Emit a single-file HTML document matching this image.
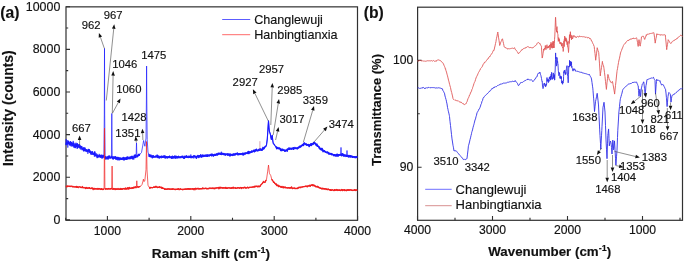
<!DOCTYPE html><html><head><meta charset="utf-8"><style>html,body{margin:0;padding:0;background:#fff;}svg{display:block;will-change:transform;} text{font-family:"Liberation Sans",sans-serif;fill:#111;stroke:#111;stroke-width:0.15px;}</style></head><body>
<svg width="685" height="262" viewBox="0 0 685 262">
<rect width="685" height="262" fill="#fff"/>
<rect x="66" y="6.85" width="291.5" height="213.45" fill="none" stroke="#303030" stroke-width="1.2"/>
<path d="M66 219.90 h4 M66 198.58 h2.2 M66 177.26 h4 M66 155.94 h2.2 M66 134.62 h4 M66 113.30 h2.2 M66 91.98 h4 M66 70.66 h2.2 M66 49.34 h4 M66 28.02 h2.2 M66 6.70 h4 M65.70 220.3 v-2.6 M107.40 220.3 v-4.4 M149.10 220.3 v-2.6 M190.80 220.3 v-4.4 M232.50 220.3 v-2.6 M274.20 220.3 v-4.4 M315.90 220.3 v-2.6 M357.60 220.3 v-4.4" stroke="#303030" stroke-width="1.1" fill="none"/>
<text x="60.3" y="223.80" font-size="12.4" text-anchor="end">0</text>
<text x="60.3" y="181.16" font-size="12.4" text-anchor="end">2000</text>
<text x="60.3" y="138.52" font-size="12.4" text-anchor="end">4000</text>
<text x="60.3" y="95.88" font-size="12.4" text-anchor="end">6000</text>
<text x="60.3" y="53.24" font-size="12.4" text-anchor="end">8000</text>
<text x="60.3" y="10.60" font-size="12.4" text-anchor="end">10000</text>
<text x="107.40" y="235" font-size="12.2" text-anchor="middle">1000</text>
<text x="190.80" y="235" font-size="12.2" text-anchor="middle">2000</text>
<text x="274.20" y="235" font-size="12.2" text-anchor="middle">3000</text>
<text x="357.60" y="235" font-size="12.2" text-anchor="middle">4000</text>
<path d="M66.00 144.79 L66.40 142.99 L66.80 143.44 L67.20 144.11 L67.60 142.73 L68.00 142.87 L68.40 141.30 L68.80 143.81 L69.20 143.67 L69.60 143.03 L70.00 144.94 L70.40 141.73 L70.80 144.32 L71.20 142.45 L71.60 142.85 L72.00 144.00 L72.40 145.82 L72.80 143.19 L73.20 143.53 L73.60 143.43 L74.00 147.05 L74.40 145.57 L74.80 145.57 L75.20 147.49 L75.60 145.70 L76.00 143.36 L76.40 145.22 L76.80 144.65 L77.20 148.21 L77.60 144.75 L78.00 146.71 L78.40 146.02 L78.80 146.26 L79.20 146.90 L79.60 146.90 L80.00 146.49 L80.40 146.12 L80.80 146.91 L81.20 146.70 L81.60 147.03 L82.00 148.25 L82.40 148.17 L82.80 148.99 L83.20 148.46 L83.60 150.79 L84.00 148.35 L84.40 148.28 L84.80 150.46 L85.20 148.95 L85.60 149.95 L86.00 150.97 L86.40 150.11 L86.80 150.05 L87.20 151.51 L87.60 151.10 L88.00 150.47 L88.40 150.04 L88.80 151.01 L89.20 150.01 L89.60 150.94 L90.00 150.93 L90.40 152.42 L90.80 153.04 L91.20 151.93 L91.60 152.32 L92.00 151.92 L92.40 151.86 L92.80 152.92 L93.20 154.01 L93.60 154.12 L94.00 154.42 L94.40 153.85 L94.80 151.87 L95.20 155.27 L95.60 155.77 L96.00 155.56 L96.40 155.70 L96.80 156.01 L97.20 157.52 L97.60 155.65 L98.00 156.85 L98.40 156.37 L98.80 156.41 L99.20 155.88 L99.60 155.86 L100.00 155.36 L100.40 156.77 L100.80 156.01 L101.20 155.27 L101.60 155.62 L102.00 155.26 L102.40 157.53 L102.80 156.00 L103.20 156.36 L103.60 155.45 L104.00 155.76 M104.80 156.73 L105.20 157.26 L105.60 158.71 L106.00 159.07 L106.40 157.97 L106.80 157.83 L107.20 157.65 L107.60 157.25 L108.00 159.10 L108.40 156.56 L108.80 157.47 L109.20 156.05 L109.60 156.59 L110.00 157.91 L110.40 157.99 L110.80 157.93 L111.20 157.44 L111.60 157.18 L112.00 157.34 L112.40 157.50 L112.80 158.66 L113.20 158.97 L113.60 158.23 L114.00 157.51 L114.40 157.24 L114.80 158.21 L115.20 157.84 L115.60 156.68 L116.00 159.12 L116.40 158.12 L116.80 157.92 L117.20 157.55 L117.60 157.58 L118.00 158.93 L118.40 157.60 L118.80 158.41 L119.20 158.84 L119.60 159.76 L120.00 158.89 L120.40 158.46 L120.80 158.20 L121.20 159.17 L121.60 159.31 L122.00 158.31 L122.40 159.08 L122.80 158.59 L123.20 157.57 L123.60 158.05 L124.00 159.38 L124.40 159.76 L124.80 159.16 L125.20 158.47 L125.60 158.05 L126.00 158.86 L126.40 158.66 L126.80 157.23 L127.20 158.75 L127.60 157.75 L128.00 158.64 L128.40 158.48 L128.80 158.55 L129.20 158.72 L129.60 158.41 L130.00 157.15 L130.40 157.11 L130.80 158.44 L131.20 158.00 L131.60 156.55 L132.00 156.20 L132.40 158.09 L132.80 158.91 L133.20 157.91 L133.60 157.14 L134.00 157.35 L134.40 155.25 L134.80 156.26 L135.20 157.45 L135.60 157.22 L136.00 155.14 M136.80 156.61 L137.20 156.67 L137.60 155.66 L138.00 155.52 L138.40 154.56 L138.80 155.18 L139.20 155.28 L139.60 153.81 M148.80 154.23 L149.20 154.96 L149.60 156.04 L150.00 156.56 L150.40 155.26 L150.80 156.48 L151.20 156.57 L151.60 156.57 L152.00 156.10 L152.40 157.78 L152.80 156.97 L153.20 155.69 L153.60 156.10 L154.00 157.00 L154.40 156.86 L154.80 156.66 L155.20 156.59 L155.60 156.50 L156.00 156.39 L156.40 156.08 L156.80 157.03 L157.20 155.11 L157.60 156.32 L158.00 157.48 L158.40 156.33 L158.80 156.11 L159.20 157.92 L159.60 157.45 L160.00 156.79 L160.40 156.56 L160.80 156.78 L161.20 156.74 L161.60 156.82 L162.00 156.56 L162.40 157.32 L162.80 156.71 L163.20 156.01 L163.60 156.33 L164.00 157.10 L164.40 156.53 L164.80 155.72 L165.20 158.03 L165.60 157.47 L166.00 156.94 L166.40 156.93 L166.80 157.55 L167.20 158.05 L167.60 156.89 L168.00 157.48 L168.40 156.87 L168.80 157.41 L169.20 156.56 L169.60 156.16 L170.00 157.25 L170.40 157.15 L170.80 157.59 L171.20 156.79 L171.60 157.94 L172.00 157.21 L172.40 158.02 L172.80 156.94 L173.20 157.99 L173.60 157.08 L174.00 157.19 L174.40 157.65 L174.80 156.08 L175.20 156.48 L175.60 158.12 L176.00 156.21 L176.40 156.77 L176.80 157.36 L177.20 157.87 L177.60 156.75 L178.00 157.10 L178.40 156.37 L178.80 156.79 L179.20 157.58 L179.60 157.18 L180.00 156.97 L180.40 157.22 L180.80 157.05 L181.20 157.06 L181.60 156.75 L182.00 156.39 L182.40 157.32 L182.80 156.28 L183.20 157.50 L183.60 158.12 L184.00 157.76 L184.40 158.21 L184.80 156.30 L185.20 157.02 L185.60 156.41 L186.00 156.45 L186.40 155.89 L186.80 156.16 L187.20 157.33 L187.60 157.23 L188.00 157.51 L188.40 157.46 L188.80 157.25 L189.20 156.35 L189.60 156.73 L190.00 157.20 L190.40 157.49 L190.80 156.57 L191.20 156.49 L191.60 156.52 L192.00 157.65 L192.40 157.06 L192.80 156.56 L193.20 156.30 L193.60 156.97 L194.00 155.77 L194.40 156.58 L194.80 156.38 L195.20 156.35 L195.60 156.75 L196.00 156.83 L196.40 158.26 L196.80 156.58 L197.20 156.87 L197.60 156.00 L198.00 155.48 L198.40 157.01 L198.80 157.42 L199.20 155.74 L199.60 156.21 L200.00 156.83 L200.40 156.23 L200.80 154.81 L201.20 156.66 L201.60 155.98 L202.00 156.43 L202.40 155.45 L202.80 156.43 L203.20 156.48 L203.60 155.47 L204.00 156.10 L204.40 155.44 L204.80 155.47 L205.20 155.21 L205.60 155.43 L206.00 155.26 L206.40 156.24 L206.80 155.43 L207.20 154.89 L207.60 156.23 L208.00 155.74 L208.40 155.94 L208.80 155.32 L209.20 155.71 L209.60 155.23 L210.00 154.72 L210.40 155.27 L210.80 155.26 L211.20 155.22 L211.60 155.58 L212.00 154.12 L212.40 155.21 L212.80 154.57 L213.20 154.82 L213.60 155.18 L214.00 154.94 L214.40 154.50 L214.80 155.25 L215.20 154.75 L215.60 155.23 L216.00 155.32 L216.40 154.38 L216.80 153.90 L217.20 154.48 L217.60 154.81 L218.00 154.46 L218.40 153.58 L218.80 153.22 L219.20 153.56 L219.60 153.49 L220.00 154.27 L220.40 153.90 L220.80 154.27 L221.20 153.67 L221.60 154.56 L222.00 153.68 L222.40 154.03 L222.80 153.56 L223.20 154.09 L223.60 154.49 L224.00 154.38 L224.40 154.70 L224.80 153.74 L225.20 154.37 L225.60 155.11 L226.00 154.37 L226.40 154.20 L226.80 154.22 L227.20 154.12 L227.60 154.54 L228.00 155.27 L228.40 154.82 L228.80 154.62 L229.20 154.26 L229.60 154.13 L230.00 156.08 L230.40 154.58 L230.80 154.86 L231.20 154.51 L231.60 154.84 L232.00 154.49 L232.40 154.75 L232.80 155.44 L233.20 154.24 L233.60 154.89 L234.00 154.54 L234.40 154.94 L234.80 154.16 L235.20 154.71 L235.60 153.94 L236.00 153.46 L236.40 153.70 L236.80 153.87 L237.20 153.75 L237.60 154.14 L238.00 154.88 L238.40 153.65 L238.80 154.47 L239.20 154.28 L239.60 153.80 L240.00 153.65 L240.40 154.34 L240.80 154.34 L241.20 153.88 L241.60 153.95 L242.00 154.00 L242.40 153.28 L242.80 154.01 L243.20 154.09 L243.60 154.83 L244.00 153.19 L244.40 153.38 L244.80 153.86 L245.20 153.43 L245.60 153.40 L246.00 153.49 L246.40 153.21 L246.80 153.22 L247.20 153.35 L247.60 152.14 L248.00 153.17 L248.40 151.56 L248.80 153.52 L249.20 152.99 L249.60 152.06 L250.00 152.79 L250.40 152.05 L250.80 152.23 L251.20 152.28 L251.60 151.94 L252.00 151.64 L252.40 151.84 L252.80 151.29 L253.20 151.07 L253.60 150.64 L254.00 150.07 L254.40 151.72 L254.80 151.18 L255.20 149.93 L255.60 150.76 L256.00 150.56 L256.40 149.20 L256.80 149.81 L257.20 150.09 L257.60 150.94 L258.00 150.51 L258.40 150.49 L258.80 149.93 L259.20 150.23 L259.60 149.04 L260.00 149.92 L260.40 149.92 L260.80 148.83 L261.20 149.56 L261.60 150.16 L262.00 150.31 L262.40 149.80 L262.80 148.45 L263.20 148.52 L263.60 148.04 L264.00 148.70 L264.40 147.37 L264.80 147.02 L265.20 146.47 L265.60 147.22 M276.00 146.96 L276.40 147.54 L276.80 148.44 L277.20 148.35 L277.60 147.63 L278.00 147.61 L278.40 148.20 L278.80 148.36 L279.20 147.95 L279.60 148.24 L280.00 148.39 L280.40 149.11 L280.80 150.30 L281.20 150.59 L281.60 149.31 L282.00 149.68 L282.40 149.29 L282.80 149.24 L283.20 150.11 L283.60 150.25 L284.00 149.98 L284.40 150.70 L284.80 150.29 L285.20 151.09 L285.60 150.37 L286.00 150.99 L286.40 150.24 L286.80 150.20 L287.20 150.24 L287.60 149.04 L288.00 149.14 L288.40 149.30 L288.80 149.09 L289.20 149.27 L289.60 148.63 L290.00 148.27 L290.40 148.80 L290.80 148.90 L291.20 148.25 L291.60 149.18 L292.00 148.82 L292.40 148.80 L292.80 148.68 L293.20 147.82 L293.60 149.32 L294.00 147.88 L294.40 148.43 L294.80 148.60 L295.20 148.40 L295.60 148.32 L296.00 147.81 L296.40 148.01 L296.80 148.23 L297.20 148.86 L297.60 147.82 L298.00 148.28 L298.40 147.95 L298.80 147.56 L299.20 147.03 L299.60 147.03 L300.00 146.02 L300.40 146.73 L300.80 146.55 L301.20 145.82 L301.60 146.03 L302.00 145.61 L302.40 144.77 L302.80 145.24 L303.20 144.24 L303.60 145.40 L304.00 143.37 L304.40 143.27 L304.80 143.46 L305.20 144.00 L305.60 144.56 L306.00 144.13 L306.40 143.99 L306.80 145.31 L307.20 145.10 L307.60 144.67 L308.00 144.99 L308.40 144.51 L308.80 145.52 L309.20 146.58 L309.60 145.14 L310.00 144.79 L310.40 145.33 L310.80 143.84 L311.20 145.49 L311.60 143.81 L312.00 143.97 L312.40 144.05 L312.80 144.52 L313.20 143.92 L313.60 142.58 L314.00 142.48 L314.40 143.47 L314.80 142.64 L315.20 143.84 L315.60 143.88 L316.00 144.99 L316.40 145.50 L316.80 143.97 L317.20 145.73 L317.60 146.21 L318.00 145.92 L318.40 146.40 L318.80 146.50 L319.20 147.32 L319.60 148.09 L320.00 148.95 L320.40 149.36 L320.80 148.78 L321.20 148.78 L321.60 149.95 L322.00 148.37 L322.40 149.31 L322.80 150.58 L323.20 151.63 L323.60 150.42 L324.00 151.12 L324.40 150.79 L324.80 151.58 L325.20 151.76 L325.60 151.57 L326.00 152.29 L326.40 152.17 L326.80 152.65 L327.20 152.45 L327.60 152.11 L328.00 152.92 L328.40 153.43 L328.80 152.77 L329.20 153.97 L329.60 153.68 L330.00 153.44 L330.40 153.78 L330.80 153.71 L331.20 153.62 L331.60 154.64 L332.00 154.76 L332.40 154.23 L332.80 154.49 L333.20 154.61 L333.60 155.18 L334.00 155.69 L334.40 154.78 L334.80 155.39 L335.20 155.36 L335.60 155.77 L336.00 156.14 L336.40 154.94 L336.80 154.29 L337.20 155.15 L337.60 154.38 L338.00 155.91 L338.40 154.69 L338.80 154.82 L339.20 155.01 L339.60 154.93 L340.00 154.55 L340.40 154.69 L340.80 155.08 L341.20 154.52 L341.60 155.65 L342.00 155.00 L342.40 153.77 L342.80 155.43 L343.20 154.22 L343.60 155.32 L344.00 156.33 L344.40 155.84 L344.80 154.85 L345.20 155.09 L345.60 155.57 L346.00 156.35 L346.40 155.37 L346.80 156.34 L347.20 156.04 L347.60 155.92 L348.00 155.97 L348.40 156.94 L348.80 155.48 L349.20 155.74 L349.60 156.77 L350.00 156.85 L350.40 155.78 L350.80 156.00 L351.20 155.92 L351.60 156.78 L352.00 156.23 L352.40 157.27 L352.80 156.99 L353.20 156.78 L353.60 156.78 L354.00 156.98 L354.40 157.16 L354.80 156.79 L355.20 156.95 L355.60 157.23 L356.00 156.86 L356.40 157.41 L356.80 156.89 L357.20 156.62" stroke="#1a1aff" stroke-width="1.5" fill="none" stroke-linejoin="round"/>
<path d="M66.00 145.36 L66.20 138.98 L66.40 143.19 L66.60 141.87 L66.80 142.09 L67.00 142.48 L67.20 140.03 L67.40 142.56 L67.60 141.74 L67.80 147.58 L68.00 143.36 L68.20 142.62 L68.40 142.77 L68.60 142.30 L68.80 141.83 L69.00 142.79 L69.20 144.04 L69.40 143.11 L69.60 144.79 L69.80 143.27 L70.00 143.63 L70.20 145.75 L70.40 144.46 L70.60 143.11 L70.80 143.61 L71.00 144.64 L71.20 146.57 L71.40 143.69 L71.60 143.79 L71.80 145.51 L72.00 143.06 L72.20 143.92 L72.40 145.54 L72.60 145.20 L72.80 144.62 L73.00 145.44 L73.20 140.90 L73.40 146.03 L73.60 143.49 L73.80 142.63 L74.00 145.24 L74.20 145.86 L74.40 144.43 L74.60 143.67 L74.80 145.17 L75.00 145.13 L75.20 147.10 L75.40 146.32 L75.60 145.69 L75.80 146.95 L76.00 145.34 L76.20 144.49 L76.40 146.51 L76.60 146.58 L76.80 145.65 L77.00 145.01 L77.20 146.37 L77.40 143.00 L77.60 147.11 L77.80 146.94 L78.00 144.34 L78.20 146.56 L78.40 145.35 L78.60 147.59 L78.80 144.18 L79.00 145.66 L79.20 147.76 L79.40 148.40 L79.60 144.36 L79.80 146.50 L80.00 147.61 L80.20 146.54 L80.40 149.35 L80.60 146.02 L80.80 148.01 L81.00 146.39 L81.20 149.48 L81.40 147.83 L81.60 147.50 L81.80 145.96 L82.00 150.18 L82.20 149.15 L82.40 149.24 L82.60 149.80 L82.80 148.94 L83.00 147.85 L83.20 147.75 L83.40 147.85 L83.60 150.53 L83.80 147.25 L84.00 148.38 L84.20 148.80 L84.40 149.54 L84.60 150.05 L84.80 147.99 L85.00 147.52 L85.20 149.65 L85.40 151.17 L85.60 150.73 L85.80 150.19 L86.00 149.66 L86.20 150.46 L86.40 149.93 L86.60 151.26 L86.80 149.49 L87.00 150.65 L87.20 150.47 L87.40 151.32 L87.60 151.05 L87.80 153.81 L88.00 152.70 L88.20 152.79 L88.40 148.86 L88.60 150.89 L88.80 150.69 L89.00 152.08 L89.20 149.00 L89.40 152.99 L89.60 152.97 L89.80 150.41 L90.00 150.87 L90.20 151.17 L90.40 152.21 L90.60 152.97 L90.80 154.62 L91.00 152.23 L91.20 153.39 L91.40 152.82 L91.60 154.68 L91.80 153.65 L92.00 154.43 L92.20 151.86 L92.40 152.92 L92.60 152.35 L92.80 154.96 L93.00 154.14 L93.20 153.19 L93.40 153.13 L93.60 154.24 L93.80 153.06 L94.00 152.92 L94.20 154.52 L94.40 156.73 L94.60 153.94 L94.80 153.71 L95.00 153.16 L95.20 153.07 L95.40 155.11 L95.60 155.52 L95.80 154.71 L96.00 155.13 L96.20 154.98 L96.40 155.08 L96.60 153.42 L96.80 154.61 L97.00 155.28 L97.20 154.43 L97.40 154.82 L97.60 154.55 L97.80 155.12 L98.00 156.41 L98.20 155.20 L98.40 155.54 L98.60 156.60 L98.80 156.50 L99.00 157.64 L99.20 153.89 L99.40 156.93 L99.60 155.66 L99.80 156.36 L100.00 157.14 L100.20 157.38 L100.40 157.32 L100.60 156.43 L100.80 157.88 L101.00 155.99 L101.20 156.12 L101.40 157.05 L101.60 155.70 L101.80 158.38 L102.00 157.24 L102.20 158.37 L102.40 156.19 L102.60 155.84 L102.80 156.37 L103.00 156.92 L103.20 155.70 L103.40 156.73 L103.60 156.42 L103.80 158.10 L103.90 156.61 L104.30 114.93 L104.50 48.36 L104.70 115.08 L105.10 157.10 L105.20 156.44 L105.40 158.17 L105.60 156.62 L105.80 156.39 L106.00 156.72 L106.20 156.26 L106.40 157.56 L106.60 158.42 L106.80 157.60 L107.00 158.05 L107.20 159.02 L107.40 157.73 L107.60 157.67 L107.80 157.23 L108.00 155.97 L108.20 158.23 L108.40 155.85 L108.60 158.15 L108.80 157.53 L109.00 158.62 L109.20 157.50 L109.40 156.79 L109.60 157.92 L109.80 157.06 L110.00 157.43 L110.20 157.66 L110.40 157.51 L110.60 157.47 L110.80 156.89 L111.00 157.50 L111.20 155.70 L111.40 157.24 L111.80 113.48 L112.20 157.38 L112.20 157.63 L112.40 156.68 L112.60 158.84 L112.80 159.00 L113.00 156.04 L113.20 157.99 L113.40 157.76 L113.60 156.93 L113.80 158.39 L114.00 157.50 L114.20 156.32 L114.40 157.71 L114.60 157.83 L114.80 158.08 L115.00 156.88 L115.20 158.58 L115.40 158.70 L115.60 157.01 L115.80 157.47 L116.00 158.02 L116.20 157.60 L116.40 159.70 L116.60 158.33 L116.80 157.25 L117.00 157.47 L117.20 158.14 L117.40 160.27 L117.60 158.07 L117.80 158.36 L118.00 158.73 L118.20 158.25 L118.40 160.33 L118.60 157.85 L118.80 159.00 L119.00 158.50 L119.20 158.92 L119.40 157.35 L119.60 159.97 L119.80 158.32 L120.00 158.47 L120.20 157.64 L120.40 157.84 L120.60 158.99 L120.80 159.38 L121.00 159.19 L121.20 159.61 L121.40 159.19 L121.60 158.61 L121.80 159.33 L122.00 159.14 L122.20 158.55 L122.40 159.29 L122.60 159.79 L122.80 158.90 L123.00 158.40 L123.20 159.35 L123.40 160.38 L123.60 158.58 L123.80 158.70 L124.00 158.68 L124.20 159.81 L124.40 157.17 L124.60 159.02 L124.80 159.69 L125.00 157.95 L125.20 159.88 L125.40 159.03 L125.60 158.09 L125.80 158.69 L126.00 157.19 L126.20 157.98 L126.40 159.96 L126.60 157.64 L126.80 159.91 L127.00 158.26 L127.20 159.13 L127.40 158.31 L127.60 156.37 L127.80 157.73 L128.00 158.33 L128.20 157.19 L128.40 156.99 L128.60 158.38 L128.80 157.51 L129.00 156.62 L129.20 157.42 L129.40 158.67 L129.60 157.54 L129.80 158.66 L130.00 159.11 L130.20 157.86 L130.40 156.88 L130.60 156.71 L130.80 157.72 L131.00 158.42 L131.20 157.89 L131.40 158.09 L131.60 157.25 L131.80 157.82 L132.00 157.17 L132.20 157.26 L132.40 156.45 L132.60 156.19 L132.80 157.04 L133.00 156.51 L133.20 156.59 L133.40 157.87 L133.60 157.21 L133.80 159.56 L134.00 157.91 L134.20 156.60 L134.40 157.66 L134.60 157.26 L134.80 156.37 L135.00 157.72 L135.20 156.17 L135.40 154.31 L135.60 157.28 L135.80 156.10 L136.00 157.69 L136.10 156.81 L136.50 142.83 L136.90 156.38 L137.00 155.69 L137.20 155.15 L137.40 157.13 L137.60 154.96 L137.80 155.81 L138.00 156.64 L138.20 155.47 L138.40 155.19 L138.60 155.19 L138.80 155.62 L139.00 154.22 L139.20 155.17 L139.40 155.01 L139.50 154.66 L141.50 152.50 L142.70 145.97 L143.60 140.52 L144.30 143.89 L144.90 146.27 L146.00 138.06 L146.40 100.04 L146.60 66.04 L146.80 99.95 L147.20 139.68 L148.00 152.12 L149.00 155.22 L149.00 156.95 L149.20 155.26 L149.40 155.06 L149.60 156.42 L149.80 155.82 L150.00 156.50 L150.20 156.40 L150.40 157.14 L150.60 155.88 L150.80 156.28 L151.00 154.57 L151.20 155.75 L151.40 157.46 L151.60 155.92 L151.80 155.92 L152.00 155.57 L152.20 156.83 L152.40 156.57 L152.60 155.62 L152.80 156.93 L153.00 156.66 L153.20 157.01 L153.40 156.05 L153.60 157.73 L153.80 156.81 L154.00 156.45 L154.20 156.18 L154.40 156.39 L154.60 157.17 L154.80 156.39 L155.00 157.35 L155.20 157.01 L155.40 157.56 L155.60 157.20 L155.80 156.60 L156.00 155.32 L156.20 156.87 L156.40 157.23 L156.60 156.80 L156.80 157.09 L157.00 156.38 L157.20 156.46 L157.40 156.08 L157.60 157.70 L157.80 156.87 L158.00 156.43 L158.20 155.86 L158.40 156.69 L158.60 157.81 L158.80 157.14 L159.00 156.33 L159.20 157.84 L159.40 157.85 L159.60 157.55 L159.80 157.42 L160.00 157.69 L160.20 157.28 L160.40 157.45 L160.60 156.38 L160.80 157.98 L161.00 157.11 L161.20 158.36 L161.40 155.55 L161.60 157.47 L161.80 157.68 L162.00 156.77 L162.20 157.33 L162.40 157.55 L162.60 157.44 L162.80 156.68 L163.00 156.97 L163.20 157.78 L163.40 157.97 L163.60 157.17 L163.80 157.17 L164.00 157.26 L164.20 157.85 L164.40 156.42 L164.60 156.24 L164.80 157.26 L165.00 156.42 L165.20 156.79 L165.40 157.27 L165.60 157.55 L165.80 156.49 L166.00 157.80 L166.20 156.03 L166.40 157.64 L166.60 156.18 L166.80 156.41 L167.00 157.74 L167.20 157.01 L167.40 156.74 L167.60 156.98 L167.80 157.60 L168.00 157.24 L168.20 157.25 L168.40 158.00 L168.60 156.77 L168.80 156.94 L169.00 156.90 L169.20 158.06 L169.40 157.93 L169.60 158.13 L169.80 157.22 L170.00 157.13 L170.20 157.82 L170.40 156.95 L170.60 157.80 L170.80 157.72 L171.00 156.73 L171.20 157.15 L171.40 157.12 L171.60 158.40 L171.80 158.98 L172.00 157.12 L172.20 157.20 L172.40 155.61 L172.60 157.33 L172.80 157.17 L173.00 156.43 L173.20 157.71 L173.40 156.08 L173.60 157.01 L173.80 157.25 L174.00 156.29 L174.20 157.74 L174.40 157.87 L174.60 156.18 L174.80 156.16 L175.00 157.54 L175.20 157.10 L175.40 156.29 L175.60 156.91 L175.80 157.04 L176.00 157.01 L176.20 157.67 L176.40 157.36 L176.60 158.31 L176.80 158.03 L177.00 157.55 L177.20 157.82 L177.40 157.99 L177.60 157.56 L177.80 156.23 L178.00 157.65 L178.20 157.11 L178.40 158.17 L178.60 157.12 L178.80 157.41 L179.00 157.27 L179.20 158.19 L179.40 157.16 L179.60 156.85 L179.80 157.24 L180.00 156.72 L180.20 157.13 L180.40 157.01 L180.60 157.19 L180.80 158.32 L181.00 156.72 L181.20 157.02 L181.40 156.85 L181.60 157.45 L181.80 156.17 L182.00 156.50 L182.20 156.95 L182.40 157.34 L182.60 156.93 L182.80 156.62 L183.00 156.36 L183.20 157.30 L183.40 157.93 L183.60 157.17 L183.80 157.07 L184.00 157.24 L184.20 156.29 L184.40 156.71 L184.60 156.74 L184.80 157.12 L185.00 156.89 L185.20 156.08 L185.40 157.67 L185.60 158.06 L185.80 156.72 L186.00 157.17 L186.20 157.07 L186.40 157.42 L186.60 155.87 L186.80 157.98 L187.00 156.55 L187.20 157.73 L187.40 156.92 L187.60 156.59 L187.80 156.76 L188.00 157.46 L188.20 156.26 L188.40 156.59 L188.60 156.51 L188.80 155.66 L189.00 157.71 L189.20 157.22 L189.40 156.81 L189.60 157.61 L189.80 156.16 L190.00 156.76 L190.20 157.98 L190.40 157.47 L190.60 155.28 L190.80 154.52 L191.00 156.08 L191.20 157.50 L191.40 156.46 L191.60 156.62 L191.80 157.18 L192.00 156.16 L192.20 156.90 L192.40 157.29 L192.60 157.07 L192.80 157.02 L193.00 156.33 L193.20 157.09 L193.40 156.44 L193.60 157.62 L193.80 158.47 L194.00 156.22 L194.20 155.24 L194.40 156.42 L194.60 156.96 L194.80 157.42 L195.00 157.43 L195.20 156.15 L195.40 156.12 L195.60 157.50 L195.80 155.88 L196.00 157.34 L196.20 156.43 L196.40 157.08 L196.60 157.02 L196.80 157.05 L197.00 157.06 L197.20 155.81 L197.40 156.67 L197.60 156.45 L197.80 156.63 L198.00 157.24 L198.20 156.20 L198.40 155.89 L198.60 155.85 L198.80 156.12 L199.00 156.82 L199.20 155.74 L199.40 157.05 L199.60 156.45 L199.80 156.08 L200.00 155.31 L200.20 156.36 L200.40 156.64 L200.60 154.96 L200.80 156.94 L201.00 157.23 L201.20 156.32 L201.40 156.41 L201.60 157.68 L201.80 156.87 L202.00 155.41 L202.20 155.98 L202.40 155.87 L202.60 155.85 L202.80 154.34 L203.00 156.43 L203.20 155.47 L203.40 155.99 L203.60 155.77 L203.80 156.43 L204.00 155.62 L204.20 155.26 L204.40 156.14 L204.60 156.71 L204.80 155.53 L205.00 156.64 L205.20 155.88 L205.40 155.32 L205.60 156.69 L205.80 155.09 L206.00 156.31 L206.20 155.27 L206.40 155.89 L206.60 154.73 L206.80 154.98 L207.00 156.24 L207.20 155.63 L207.40 155.51 L207.60 155.17 L207.80 155.75 L208.00 154.49 L208.20 154.66 L208.40 155.28 L208.60 154.81 L208.80 154.88 L209.00 155.28 L209.20 155.22 L209.40 155.14 L209.60 156.39 L209.80 155.93 L210.00 156.06 L210.20 155.20 L210.40 154.86 L210.60 154.21 L210.80 154.93 L211.00 153.75 L211.20 154.74 L211.40 155.63 L211.60 156.19 L211.80 155.73 L212.00 154.49 L212.20 155.38 L212.40 154.50 L212.60 155.56 L212.80 154.92 L213.00 155.55 L213.20 156.68 L213.40 155.56 L213.60 156.48 L213.80 155.02 L214.00 154.67 L214.20 155.76 L214.40 156.01 L214.60 154.46 L214.80 154.87 L215.00 153.84 L215.20 154.63 L215.40 155.32 L215.60 154.63 L215.80 154.28 L216.00 153.68 L216.20 154.83 L216.40 155.08 L216.60 154.91 L216.80 154.65 L217.00 153.59 L217.20 155.58 L217.40 154.33 L217.60 154.24 L217.80 154.79 L218.00 152.82 L218.20 154.18 L218.40 154.10 L218.60 154.40 L218.80 155.02 L219.00 154.40 L219.20 152.83 L219.40 153.79 L219.60 154.11 L219.80 154.04 L220.00 153.05 L220.20 152.76 L220.40 154.20 L220.60 154.03 L220.80 153.75 L221.00 152.58 L221.20 154.87 L221.40 151.72 L221.60 153.38 L221.80 155.01 L222.00 153.54 L222.20 153.82 L222.40 152.91 L222.60 154.63 L222.80 152.89 L223.00 153.95 L223.20 153.90 L223.40 153.14 L223.60 154.45 L223.80 152.95 L224.00 153.47 L224.20 153.93 L224.40 153.70 L224.60 154.32 L224.80 154.65 L225.00 153.87 L225.20 153.73 L225.40 153.77 L225.60 153.90 L225.80 154.71 L226.00 154.06 L226.20 154.50 L226.40 154.20 L226.60 153.72 L226.80 154.88 L227.00 153.65 L227.20 154.37 L227.40 155.38 L227.60 153.70 L227.80 154.41 L228.00 153.43 L228.20 154.17 L228.40 153.55 L228.60 154.32 L228.80 154.23 L229.00 154.71 L229.20 155.69 L229.40 154.86 L229.60 155.14 L229.80 154.70 L230.00 154.60 L230.20 154.23 L230.40 153.60 L230.60 154.82 L230.80 155.84 L231.00 155.07 L231.20 154.39 L231.40 155.81 L231.60 154.43 L231.80 154.29 L232.00 153.88 L232.20 154.04 L232.40 154.49 L232.60 155.96 L232.80 154.49 L233.00 153.94 L233.20 154.20 L233.40 154.44 L233.60 153.45 L233.80 154.65 L234.00 155.01 L234.20 154.75 L234.40 154.92 L234.60 153.66 L234.80 153.37 L235.00 155.33 L235.20 155.19 L235.40 153.44 L235.60 154.58 L235.80 154.44 L236.00 154.77 L236.20 154.54 L236.40 154.05 L236.60 154.50 L236.80 154.46 L237.00 154.31 L237.20 153.11 L237.40 152.35 L237.60 153.78 L237.80 153.21 L238.00 154.44 L238.20 154.73 L238.40 154.42 L238.60 153.99 L238.80 154.27 L239.00 154.98 L239.20 153.72 L239.40 154.79 L239.60 154.63 L239.80 154.33 L240.00 155.09 L240.20 153.66 L240.40 154.73 L240.60 153.49 L240.80 153.58 L241.00 153.38 L241.20 154.35 L241.40 153.43 L241.60 154.07 L241.80 153.27 L242.00 154.70 L242.20 155.19 L242.40 154.13 L242.60 155.04 L242.80 154.32 L243.00 155.36 L243.20 153.99 L243.40 152.88 L243.60 154.87 L243.80 153.80 L244.00 153.19 L244.20 153.42 L244.40 152.78 L244.60 153.72 L244.80 153.11 L245.00 154.77 L245.20 154.17 L245.40 152.59 L245.60 152.63 L245.80 153.18 L246.00 152.23 L246.20 153.36 L246.40 153.34 L246.60 152.80 L246.80 152.89 L247.00 153.51 L247.20 154.05 L247.40 154.03 L247.60 153.02 L247.80 153.49 L248.00 152.39 L248.20 153.08 L248.40 152.12 L248.60 153.16 L248.80 151.81 L249.00 151.93 L249.20 152.49 L249.40 152.80 L249.60 151.44 L249.80 151.96 L250.00 152.34 L250.20 152.34 L250.40 151.58 L250.60 152.13 L250.80 151.83 L251.00 152.85 L251.20 152.24 L251.40 150.95 L251.60 150.32 L251.80 151.76 L252.00 152.40 L252.20 151.68 L252.40 152.08 L252.60 151.13 L252.80 150.49 L253.00 151.81 L253.20 151.32 L253.40 151.64 L253.60 150.24 L253.80 151.19 L254.00 150.60 L254.20 151.47 L254.40 150.51 L254.60 150.43 L254.80 150.38 L255.00 151.52 L255.20 150.67 L255.40 150.10 L255.60 149.88 L255.80 149.82 L256.00 151.39 L256.20 149.21 L256.40 149.79 L256.60 150.70 L256.80 151.00 L257.00 150.09 L257.20 150.64 L257.40 150.58 L257.60 150.67 L257.80 150.01 L258.00 151.00 L258.20 150.02 L258.40 150.83 L258.60 149.08 L258.80 150.38 L259.00 148.93 L259.20 148.74 L259.40 150.01 L259.60 149.13 L259.80 149.92 L260.00 148.91 L260.20 150.62 L260.40 149.56 L260.60 148.79 L260.80 149.61 L261.00 150.04 L261.20 148.94 L261.40 149.75 L261.60 150.71 L261.80 149.92 L262.00 149.33 L262.20 148.84 L262.40 149.45 L262.60 147.98 L262.80 146.87 L263.00 148.28 L263.20 147.88 L263.40 149.58 L263.60 148.42 L263.80 147.57 L264.00 147.33 L264.20 148.28 L264.40 147.29 L264.60 147.33 L264.80 147.52 L265.00 147.51 L265.20 147.39 L265.40 147.28 L265.50 147.14 L266.50 144.83 L267.30 138.99 L268.00 128.07 L268.50 120.95 L269.00 127.79 L269.40 131.42 L270.30 133.97 L270.80 136.88 L271.40 139.57 L272.20 135.15 L272.80 140.95 L273.30 143.39 L274.30 144.53 L275.20 146.00 L276.10 147.07 L276.20 148.05 L276.40 148.45 L276.60 146.46 L276.80 149.31 L277.00 147.89 L277.20 148.75 L277.40 147.63 L277.60 148.46 L277.80 148.54 L278.00 148.62 L278.20 149.17 L278.40 149.10 L278.60 148.14 L278.80 148.78 L279.00 149.39 L279.20 149.44 L279.40 148.87 L279.60 148.98 L279.80 149.14 L280.00 148.61 L280.20 148.57 L280.40 150.47 L280.60 149.29 L280.80 149.68 L281.00 149.22 L281.20 150.60 L281.40 150.96 L281.60 149.75 L281.80 150.26 L282.00 149.49 L282.20 151.13 L282.40 150.64 L282.60 149.56 L282.80 150.93 L283.00 150.40 L283.20 150.48 L283.40 150.48 L283.60 149.87 L283.80 150.00 L284.00 150.77 L284.20 150.39 L284.40 149.86 L284.60 151.79 L284.80 150.41 L285.00 150.23 L285.20 150.18 L285.40 151.10 L285.60 151.32 L285.80 150.90 L286.00 151.19 L286.20 149.58 L286.40 150.20 L286.60 150.03 L286.80 150.23 L287.00 150.43 L287.20 148.72 L287.40 151.89 L287.60 149.26 L287.80 149.92 L288.00 150.12 L288.20 150.03 L288.40 149.57 L288.60 147.52 L288.80 148.63 L289.00 149.75 L289.20 148.64 L289.40 148.50 L289.60 147.63 L289.80 149.84 L290.00 149.35 L290.20 148.41 L290.40 148.84 L290.60 148.81 L290.80 148.12 L291.00 148.60 L291.20 148.89 L291.40 149.03 L291.60 149.43 L291.80 148.60 L292.00 148.24 L292.20 148.74 L292.40 148.04 L292.60 147.60 L292.80 149.06 L293.00 148.07 L293.20 148.38 L293.40 148.71 L293.60 147.60 L293.80 148.70 L294.00 148.57 L294.20 148.22 L294.40 148.53 L294.60 147.80 L294.80 146.88 L295.00 148.09 L295.20 147.69 L295.40 148.80 L295.60 148.42 L295.80 147.91 L296.00 148.27 L296.20 149.09 L296.40 148.95 L296.60 148.46 L296.80 148.50 L297.00 148.05 L297.20 148.14 L297.40 148.58 L297.60 148.08 L297.80 148.24 L298.00 147.24 L298.20 146.79 L298.40 146.66 L298.60 147.35 L298.80 148.35 L299.00 148.15 L299.20 146.68 L299.40 146.22 L299.60 147.59 L299.80 147.27 L300.00 146.02 L300.20 147.43 L300.40 146.77 L300.60 147.36 L300.80 146.59 L301.00 146.77 L301.20 146.26 L301.40 145.30 L301.60 145.60 L301.80 145.16 L302.00 145.95 L302.20 144.64 L302.40 144.15 L302.60 145.38 L302.80 145.51 L303.00 145.54 L303.20 145.16 L303.40 143.38 L303.60 143.72 L303.80 143.66 L304.00 143.83 L304.20 142.34 L304.40 143.63 L304.60 143.86 L304.80 143.14 L305.00 143.86 L305.20 144.59 L305.40 143.92 L305.60 144.61 L305.80 144.63 L306.00 144.31 L306.20 144.34 L306.40 143.92 L306.60 144.98 L306.80 144.03 L307.00 144.00 L307.20 144.99 L307.40 144.21 L307.60 145.04 L307.80 145.55 L308.00 145.06 L308.20 145.19 L308.40 145.81 L308.60 145.82 L308.80 144.51 L309.00 144.76 L309.20 146.52 L309.40 146.05 L309.60 144.40 L309.80 144.74 L310.00 145.48 L310.20 144.74 L310.40 145.53 L310.60 145.17 L310.80 145.31 L311.00 144.16 L311.20 145.16 L311.40 145.88 L311.60 144.05 L311.80 145.24 L312.00 144.92 L312.20 144.61 L312.40 144.07 L312.60 143.29 L312.80 143.37 L313.00 144.29 L313.20 144.32 L313.40 144.37 L313.60 144.11 L313.80 143.98 L314.00 143.04 L314.20 142.46 L314.40 143.50 L314.60 143.83 L314.80 143.73 L315.00 142.89 L315.20 143.67 L315.40 143.23 L315.60 144.39 L315.80 143.80 L316.00 144.51 L316.20 144.96 L316.40 145.00 L316.60 145.92 L316.80 144.54 L317.00 144.03 L317.20 146.12 L317.40 146.58 L317.60 146.80 L317.80 146.29 L318.00 146.65 L318.20 146.59 L318.40 145.92 L318.60 146.56 L318.80 147.43 L319.00 146.96 L319.20 148.70 L319.40 146.77 L319.60 147.65 L319.80 148.80 L320.00 147.94 L320.20 147.82 L320.40 147.85 L320.60 148.37 L320.80 149.89 L321.00 149.34 L321.20 149.54 L321.40 149.04 L321.60 150.02 L321.80 149.70 L322.00 149.20 L322.20 149.62 L322.40 150.16 L322.60 150.89 L322.80 150.27 L323.00 150.75 L323.20 151.82 L323.40 150.22 L323.60 150.08 L323.80 151.59 L324.00 151.38 L324.20 151.19 L324.40 151.55 L324.60 151.32 L324.80 151.97 L325.00 151.55 L325.20 152.33 L325.40 151.19 L325.60 151.48 L325.80 152.13 L326.00 151.85 L326.20 152.64 L326.40 152.26 L326.60 152.03 L326.80 152.57 L327.00 152.19 L327.20 151.63 L327.40 151.97 L327.60 152.25 L327.80 152.53 L328.00 152.95 L328.20 153.53 L328.40 153.38 L328.60 154.21 L328.80 153.98 L329.00 153.16 L329.20 154.36 L329.40 154.15 L329.60 153.22 L329.80 153.77 L330.00 154.32 L330.20 153.87 L330.40 154.42 L330.60 154.12 L330.80 154.38 L331.00 153.83 L331.20 154.33 L331.40 153.94 L331.60 154.64 L331.80 153.26 L332.00 154.56 L332.20 155.19 L332.40 154.84 L332.60 154.53 L332.80 154.95 L333.00 154.16 L333.20 154.24 L333.40 154.59 L333.60 154.79 L333.80 155.53 L334.00 154.46 L334.20 155.68 L334.40 154.18 L334.60 154.72 L334.80 155.25 L335.00 156.04 L335.20 155.02 L335.40 154.15 L335.60 155.78 L335.80 155.48 L336.00 154.80 L336.20 154.79 L336.40 154.97 L336.60 155.42 L336.80 155.73 L337.00 154.39 L337.20 156.65 L337.40 155.20 L337.60 154.96 L337.80 155.56 L338.00 155.19 L338.20 156.51 L338.40 155.72 L338.60 154.79 L338.80 154.75 L339.00 154.65 L339.20 154.71 L339.40 155.29 L339.60 154.45 L339.80 155.79 L340.00 154.73 L340.20 154.66 L340.40 155.29 L340.60 154.35 L341.00 147.42 L341.40 154.56 L341.40 153.53 L341.60 154.20 L341.80 155.17 L342.00 154.86 L342.20 154.88 L342.40 155.17 L342.60 154.61 L342.80 154.91 L343.00 154.22 L343.20 153.95 L343.40 155.90 L343.60 154.61 L343.80 154.78 L344.00 156.10 L344.20 155.93 L344.40 155.01 L344.60 155.05 L344.80 155.36 L345.00 154.88 L345.20 155.83 L345.40 155.62 L345.60 155.65 L345.80 156.07 L346.00 156.09 L346.20 156.81 L346.40 156.65 L346.60 155.39 L347.00 150.49 L347.40 155.41 L347.40 154.91 L347.60 156.52 L347.80 155.34 L348.00 155.20 L348.20 156.53 L348.40 155.72 L348.60 155.99 L348.80 156.87 L349.00 155.86 L349.20 155.76 L349.40 156.53 L349.60 157.09 L349.80 156.69 L350.00 155.45 L350.20 156.01 L350.40 156.33 L350.60 157.60 L350.80 156.99 L351.00 156.98 L351.20 157.21 L351.40 156.32 L351.60 156.81 L351.80 156.83 L352.00 155.97 L352.20 156.56 L352.40 156.93 L352.60 155.96 L352.80 157.11 L353.00 157.10 L353.20 157.28 L353.40 156.21 L353.60 156.76 L353.80 157.59 L354.00 157.21 L354.20 156.27 L354.40 156.90 L354.60 157.63 L354.80 156.75 L355.00 157.04 L355.20 158.38 L355.40 156.83 L355.60 156.80 L355.80 156.28 L356.00 156.51 L356.20 157.81 L356.40 156.85 L356.60 156.24 L356.80 156.41 L357.00 156.99 L357.20 157.46 L357.40 156.57" stroke="#1a1aff" stroke-width="0.7" fill="none" stroke-linejoin="round"/>
<path d="M265.50 147.10 L266.50 145.00 L267.30 139.00 L268.00 128.00 L268.50 120.80 L269.00 128.00 L269.40 131.30 L270.30 134.00 L270.80 137.00 L271.40 139.50 L272.20 135.20 L272.80 141.00 L273.30 143.50 L274.30 144.50 L275.20 146.00 L276.10 147.10" stroke="#1a1aff" stroke-width="1.1" fill="none" stroke-linejoin="round"/>
<path d="M259.9 149.3 V141.2" stroke="#c08090" stroke-width="0.7"/>
<path d="M66.00 186.27 L66.40 186.81 L66.80 186.79 L67.20 185.73 L67.60 186.42 L68.00 186.17 L68.40 186.25 L68.80 186.27 L69.20 186.34 L69.60 186.26 L70.00 186.37 L70.40 186.58 L70.80 186.10 L71.20 186.12 L71.60 186.18 L72.00 186.21 L72.40 186.84 L72.80 186.27 L73.20 186.66 L73.60 186.73 L74.00 186.99 L74.40 186.77 L74.80 187.16 L75.20 186.80 L75.60 186.93 L76.00 187.14 L76.40 186.39 L76.80 187.06 L77.20 187.48 L77.60 187.02 L78.00 186.92 L78.40 187.70 L78.80 187.10 M79.60 186.29 L80.00 187.20 L80.40 187.04 L80.80 187.39 L81.20 187.72 L81.60 187.30 L82.00 187.31 L82.40 186.45 L82.80 187.76 L83.20 187.99 L83.60 187.63 L84.00 187.45 L84.40 187.79 L84.80 188.07 L85.20 187.98 L85.60 188.53 L86.00 187.65 L86.40 187.41 L86.80 188.11 L87.20 188.43 L87.60 187.87 L88.00 188.07 L88.40 187.89 L88.80 187.72 L89.20 187.95 L89.60 187.53 L90.00 188.39 L90.40 188.50 L90.80 188.70 L91.20 188.14 L91.60 188.25 L92.00 187.93 L92.40 188.05 L92.80 188.92 L93.20 189.61 L93.60 188.28 L94.00 188.53 L94.40 189.02 L94.80 188.47 L95.20 188.94 L95.60 188.65 L96.00 188.67 L96.40 189.11 L96.80 188.73 L97.20 188.40 L97.60 189.15 L98.00 188.89 L98.40 188.71 L98.80 188.64 L99.20 189.15 L99.60 188.72 L100.00 189.03 L100.40 189.36 L100.80 189.00 L101.20 189.44 L101.60 188.59 L102.00 189.31 L102.40 189.26 L102.80 189.71 L103.20 189.04 L103.60 189.32 L104.00 188.93 M104.80 188.64 L105.20 188.67 L105.60 189.17 L106.00 188.60 L106.40 188.87 L106.80 189.15 L107.20 189.25 L107.60 189.13 L108.00 189.34 L108.40 188.43 L108.80 188.67 L109.20 188.97 L109.60 189.26 L110.00 189.06 L110.40 188.63 L110.80 188.84 L111.20 188.34 L111.60 189.22 M112.40 189.04 L112.80 189.35 L113.20 189.30 L113.60 188.44 L114.00 189.09 L114.40 188.90 L114.80 188.93 L115.20 189.63 L115.60 189.17 L116.00 188.58 L116.40 188.71 L116.80 189.35 L117.20 189.16 L117.60 188.67 L118.00 188.47 L118.40 188.85 L118.80 188.88 L119.20 189.30 L119.60 188.79 L120.00 189.23 L120.40 189.40 L120.80 188.40 L121.20 188.75 L121.60 189.48 L122.00 188.77 L122.40 188.91 L122.80 189.24 L123.20 188.62 L123.60 188.73 L124.00 188.28 L124.40 189.04 L124.80 188.66 L125.20 188.69 L125.60 187.90 L126.00 189.13 L126.40 188.98 L126.80 188.39 L127.20 189.04 L127.60 187.68 L128.00 188.45 L128.40 187.82 L128.80 189.30 L129.20 187.36 L129.60 187.79 L130.00 187.88 L130.40 188.36 L130.80 188.31 L131.20 188.09 L131.60 187.80 L132.00 188.57 L132.40 187.50 L132.80 187.80 L133.20 188.24 L133.60 187.12 L134.00 187.21 L134.40 187.82 L134.80 187.53 L135.20 186.85 L135.60 187.26 L136.00 187.87 L136.40 187.04 M137.20 187.06 L137.60 186.71 L138.00 187.46 L138.40 187.17 L138.80 187.19 L139.20 186.60 L139.60 186.57 L140.00 186.50 L140.40 186.46 M149.20 187.47 L149.60 187.54 L150.00 187.30 L150.40 187.77 L150.80 187.28 L151.20 187.65 L151.60 187.58 L152.00 187.72 L152.40 187.88 L152.80 187.51 L153.20 187.50 L153.60 187.14 L154.00 187.43 L154.40 187.22 L154.80 187.36 L155.20 187.15 L155.60 186.34 L156.00 186.19 L156.40 187.05 L156.80 187.33 L157.20 186.81 L157.60 187.68 L158.00 187.30 L158.40 187.24 L158.80 187.39 L159.20 186.77 L159.60 186.69 L160.00 187.14 L160.40 187.02 L160.80 187.60 L161.20 187.77 L161.60 187.04 L162.00 187.83 L162.40 188.46 L162.80 187.63 L163.20 188.50 L163.60 188.31 L164.00 188.27 L164.40 189.36 L164.80 189.35 L165.20 188.83 L165.60 188.81 L166.00 189.48 L166.40 189.42 L166.80 189.00 L167.20 189.32 L167.60 189.06 L168.00 188.92 L168.40 189.25 L168.80 188.89 L169.20 189.26 L169.60 188.97 L170.00 188.90 L170.40 188.87 L170.80 189.24 L171.20 189.41 L171.60 189.24 L172.00 188.80 L172.40 189.33 L172.80 188.80 L173.20 188.73 L173.60 189.06 L174.00 189.42 L174.40 189.39 L174.80 189.35 L175.20 189.65 L175.60 189.47 L176.00 189.06 L176.40 189.46 L176.80 189.10 L177.20 189.34 L177.60 189.42 L178.00 189.20 L178.40 188.71 L178.80 189.19 L179.20 189.14 L179.60 189.22 L180.00 189.12 L180.40 188.86 L180.80 188.68 L181.20 189.46 L181.60 189.50 L182.00 189.34 L182.40 189.18 L182.80 189.87 L183.20 189.41 L183.60 189.17 L184.00 189.44 L184.40 189.12 L184.80 189.38 L185.20 189.22 L185.60 189.30 L186.00 189.12 L186.40 188.93 L186.80 189.25 L187.20 189.45 L187.60 188.73 L188.00 188.86 L188.40 188.65 L188.80 189.32 L189.20 188.93 L189.60 189.30 L190.00 188.71 L190.40 189.26 L190.80 188.76 L191.20 188.79 L191.60 189.12 L192.00 188.79 L192.40 188.71 L192.80 189.21 L193.20 188.87 L193.60 189.31 L194.00 189.74 L194.40 188.66 L194.80 188.72 L195.20 188.30 L195.60 188.41 L196.00 189.01 L196.40 188.90 L196.80 188.88 L197.20 188.93 L197.60 188.47 L198.00 188.16 L198.40 189.11 L198.80 188.81 L199.20 189.10 L199.60 188.69 L200.00 188.95 L200.40 188.49 L200.80 188.65 L201.20 188.58 L201.60 188.75 L202.00 189.09 L202.40 188.82 L202.80 187.57 L203.20 188.52 L203.60 188.55 L204.00 188.81 L204.40 188.56 L204.80 188.25 L205.20 188.21 L205.60 188.35 L206.00 188.20 L206.40 188.93 L206.80 188.63 L207.20 188.42 L207.60 188.72 L208.00 189.12 L208.40 188.28 L208.80 188.33 L209.20 188.22 L209.60 187.88 L210.00 188.07 L210.40 187.95 L210.80 188.43 L211.20 188.40 L211.60 188.53 L212.00 187.94 L212.40 188.54 L212.80 187.84 L213.20 188.10 L213.60 188.59 L214.00 188.56 L214.40 188.49 L214.80 188.83 L215.20 188.45 L215.60 187.99 L216.00 187.98 L216.40 187.77 L216.80 188.11 L217.20 187.75 L217.60 187.78 L218.00 187.64 L218.40 187.38 L218.80 188.81 L219.20 188.24 L219.60 187.20 L220.00 188.05 L220.40 187.70 L220.80 187.16 L221.20 187.82 L221.60 187.97 L222.00 188.10 L222.40 188.28 L222.80 187.61 L223.20 187.88 L223.60 188.13 L224.00 188.09 L224.40 188.03 L224.80 187.93 L225.20 188.33 L225.60 187.46 L226.00 187.38 L226.40 188.50 L226.80 188.05 L227.20 188.29 L227.60 187.98 L228.00 187.78 L228.40 187.75 L228.80 187.95 L229.20 187.74 L229.60 187.88 L230.00 187.88 L230.40 188.19 L230.80 188.18 L231.20 188.46 L231.60 187.66 L232.00 187.90 L232.40 188.24 L232.80 188.03 L233.20 187.07 L233.60 188.04 L234.00 187.91 L234.40 187.75 L234.80 187.77 L235.20 187.67 L235.60 188.32 L236.00 188.16 L236.40 187.99 L236.80 188.31 L237.20 188.25 L237.60 187.64 L238.00 187.56 L238.40 187.58 L238.80 188.19 L239.20 187.92 L239.60 188.35 L240.00 188.11 L240.40 187.84 L240.80 187.45 L241.20 187.77 L241.60 188.61 L242.00 187.58 L242.40 187.51 L242.80 187.69 L243.20 188.21 L243.60 187.71 L244.00 187.32 L244.40 187.46 L244.80 187.60 L245.20 187.65 L245.60 187.95 L246.00 188.43 L246.40 188.02 L246.80 187.75 L247.20 187.50 L247.60 187.20 L248.00 187.66 L248.40 187.87 L248.80 187.69 L249.20 187.34 L249.60 187.59 L250.00 187.26 L250.40 187.22 L250.80 187.14 L251.20 187.19 L251.60 187.08 L252.00 187.40 L252.40 187.00 L252.80 186.91 L253.20 187.24 L253.60 187.06 L254.00 187.16 L254.40 186.45 L254.80 187.11 L255.20 186.62 L255.60 186.24 L256.00 186.53 L256.40 186.14 L256.80 186.21 L257.20 186.39 L257.60 186.84 L258.00 186.03 L258.40 186.57 L258.80 186.37 L259.20 186.97 L259.60 186.49 L260.00 186.23 L260.40 186.10 L260.80 184.84 L261.20 184.70 L261.60 183.91 L262.00 183.68 L262.40 183.46 L262.80 182.68 L263.20 182.26 L263.60 181.78 L264.00 181.88 L264.40 182.26 L264.80 182.21 L265.20 181.82 L265.60 180.82 L266.00 180.49 L266.40 179.86 M271.60 179.72 L272.00 179.59 L272.40 180.47 L272.80 180.68 L273.20 181.37 L273.60 182.41 L274.00 182.39 L274.40 182.49 L274.80 183.41 L275.20 183.66 L275.60 183.87 L276.00 184.70 L276.40 183.89 L276.80 185.25 L277.20 185.87 L277.60 185.50 L278.00 184.94 L278.40 186.21 L278.80 186.78 L279.20 186.29 L279.60 185.91 L280.00 186.22 L280.40 186.58 L280.80 186.86 L281.20 187.31 L281.60 187.17 L282.00 186.27 L282.40 186.99 L282.80 187.11 L283.20 187.85 L283.60 187.08 L284.00 186.87 L284.40 187.29 L284.80 187.55 L285.20 186.88 L285.60 187.90 L286.00 187.52 L286.40 187.87 L286.80 187.86 L287.20 187.84 L287.60 188.16 L288.00 188.28 L288.40 187.61 L288.80 187.76 L289.20 188.16 L289.60 187.90 L290.00 187.67 L290.40 187.94 L290.80 187.65 L291.20 187.80 L291.60 186.83 L292.00 188.08 L292.40 188.69 L292.80 188.34 L293.20 188.36 L293.60 188.22 L294.00 187.93 L294.40 188.39 L294.80 188.27 L295.20 188.23 L295.60 188.39 L296.00 188.15 L296.40 188.42 L296.80 188.59 L297.20 188.62 L297.60 188.23 L298.00 188.37 L298.40 188.05 L298.80 187.13 L299.20 187.14 L299.60 187.64 L300.00 187.23 L300.40 187.71 L300.80 186.97 L301.20 187.19 L301.60 187.05 L302.00 186.89 L302.40 186.84 L302.80 186.94 L303.20 186.88 L303.60 186.58 L304.00 186.72 L304.40 186.75 L304.80 186.41 L305.20 186.18 L305.60 186.12 L306.00 186.13 L306.40 186.04 L306.80 186.19 L307.20 187.01 L307.60 186.42 L308.00 185.98 L308.40 186.11 L308.80 186.04 L309.20 186.21 L309.60 186.20 L310.00 185.32 L310.40 186.35 L310.80 185.23 L311.20 185.49 L311.60 185.11 L312.00 184.75 L312.40 184.66 L312.80 185.88 L313.20 185.65 L313.60 184.86 L314.00 185.00 L314.40 186.07 L314.80 185.42 L315.20 186.08 L315.60 186.80 L316.00 186.55 L316.40 186.98 L316.80 186.73 L317.20 186.25 L317.60 186.73 L318.00 186.58 L318.40 187.48 L318.80 187.10 L319.20 187.77 L319.60 187.74 L320.00 187.85 L320.40 188.45 L320.80 188.26 L321.20 188.19 L321.60 188.87 L322.00 188.57 L322.40 188.14 L322.80 189.11 L323.20 188.27 L323.60 188.89 L324.00 189.05 L324.40 188.83 L324.80 188.69 L325.20 188.92 L325.60 188.97 L326.00 188.77 L326.40 189.50 L326.80 189.05 L327.20 189.06 L327.60 189.84 L328.00 189.17 L328.40 188.95 L328.80 189.51 L329.20 189.60 L329.60 189.66 L330.00 190.42 L330.40 189.57 L330.80 190.28 L331.20 190.18 L331.60 190.43 L332.00 189.96 L332.40 189.94 L332.80 190.03 L333.20 190.21 L333.60 190.44 L334.00 190.68 L334.40 189.50 L334.80 190.48 L335.20 190.24 L335.60 190.13 L336.00 189.75 L336.40 190.23 L336.80 189.48 L337.20 190.54 L337.60 189.79 L338.00 190.07 L338.40 190.05 L338.80 190.31 L339.20 189.65 L339.60 190.40 L340.00 190.25 L340.40 190.65 L340.80 190.21 L341.20 190.07 L341.60 189.46 L342.00 189.98 L342.40 190.68 L342.80 189.95 L343.20 189.94 L343.60 190.06 L344.00 190.40 L344.40 189.50 L344.80 190.73 L345.20 190.31 L345.60 190.36 L346.00 190.11 L346.40 190.79 L346.80 189.96 L347.20 190.39 L347.60 190.15 L348.00 189.68 L348.40 190.06 L348.80 190.36 L349.20 190.01 L349.60 189.97 L350.00 190.10 L350.40 189.81 L350.80 189.73 L351.20 190.14 L351.60 189.79 L352.00 190.31 L352.40 190.36 L352.80 190.56 L353.20 190.45 L353.60 190.02 L354.00 190.26 L354.40 189.72 L354.80 190.26 L355.20 189.94 L355.60 190.58 L356.00 189.87 L356.40 190.17 L356.80 189.85 L357.20 190.33" stroke="#f02020" stroke-width="1.2" fill="none" stroke-linejoin="round"/>
<path d="M66.00 186.19 L66.20 185.83 L66.40 186.44 L66.60 185.90 L66.80 186.39 L67.00 186.63 L67.20 186.17 L67.40 186.26 L67.60 187.16 L67.80 186.40 L68.00 186.42 L68.20 186.61 L68.40 186.32 L68.60 186.34 L68.80 186.51 L69.00 185.56 L69.20 186.90 L69.40 186.05 L69.60 186.06 L69.80 186.64 L70.00 186.47 L70.20 186.04 L70.40 186.56 L70.60 186.10 L70.80 186.27 L71.00 186.00 L71.20 186.25 L71.40 186.70 L71.60 186.61 L71.80 186.69 L72.00 186.92 L72.20 186.60 L72.40 186.39 L72.60 186.54 L72.80 187.23 L73.00 186.68 L73.20 186.79 L73.40 186.66 L73.60 186.79 L73.80 186.87 L74.00 186.73 L74.20 186.69 L74.40 186.48 L74.60 186.48 L74.80 186.93 L75.00 187.06 L75.20 187.13 L75.40 186.84 L75.60 186.55 L75.80 187.07 L76.00 187.08 L76.20 186.35 L76.40 187.17 L76.60 187.11 L76.80 187.50 L77.00 186.54 L77.20 186.50 L77.40 187.23 L77.60 186.35 L77.80 186.73 L78.00 186.62 L78.20 186.66 L78.40 186.36 L78.60 186.96 L78.80 187.39 L78.90 187.08 L79.40 186.14 L79.90 187.10 L80.00 187.32 L80.20 187.34 L80.40 187.08 L80.60 187.74 L80.80 187.44 L81.00 187.64 L81.20 186.76 L81.40 187.44 L81.60 186.95 L81.80 187.49 L82.00 187.46 L82.20 187.02 L82.40 187.50 L82.60 187.86 L82.80 187.66 L83.00 187.71 L83.20 187.23 L83.40 187.31 L83.60 187.18 L83.80 187.64 L84.00 188.03 L84.20 187.79 L84.40 187.66 L84.60 187.30 L84.80 187.86 L85.00 187.65 L85.20 187.09 L85.40 187.17 L85.60 187.68 L85.80 187.51 L86.00 188.42 L86.20 187.88 L86.40 187.53 L86.60 187.74 L86.80 188.49 L87.00 187.63 L87.20 188.25 L87.40 188.16 L87.60 188.54 L87.80 188.23 L88.00 187.93 L88.20 188.28 L88.40 188.14 L88.60 188.48 L88.80 188.14 L89.00 188.87 L89.20 188.17 L89.40 188.38 L89.60 188.02 L89.80 188.32 L90.00 188.31 L90.20 188.38 L90.40 188.66 L90.60 188.18 L90.80 188.09 L91.00 188.80 L91.20 188.34 L91.40 188.22 L91.60 188.88 L91.80 188.77 L92.00 187.60 L92.20 188.42 L92.40 188.84 L92.60 188.88 L92.80 188.43 L93.00 189.17 L93.20 188.36 L93.40 188.56 L93.60 188.70 L93.80 188.66 L94.00 188.96 L94.20 189.04 L94.40 188.68 L94.60 189.20 L94.80 188.48 L95.00 188.66 L95.20 189.34 L95.40 188.79 L95.60 189.14 L95.80 188.63 L96.00 188.69 L96.20 188.76 L96.40 188.87 L96.60 188.70 L96.80 188.84 L97.00 189.07 L97.20 189.27 L97.40 188.90 L97.60 189.10 L97.80 189.20 L98.00 188.52 L98.20 188.36 L98.40 189.48 L98.60 189.39 L98.80 188.96 L99.00 189.07 L99.20 188.63 L99.40 188.49 L99.60 189.09 L99.80 188.48 L100.00 189.32 L100.20 188.78 L100.40 189.13 L100.60 189.71 L100.80 189.70 L101.00 188.96 L101.20 189.44 L101.40 188.72 L101.60 188.89 L101.80 189.23 L102.00 189.59 L102.20 188.90 L102.40 189.28 L102.60 189.11 L102.80 188.63 L103.00 189.01 L103.20 189.57 L103.40 189.00 L103.60 189.20 L103.80 189.30 L104.00 188.74 L104.10 189.00 L104.50 128.14 L104.90 188.70 L105.00 189.37 L105.20 189.46 L105.40 189.48 L105.60 189.37 L105.80 188.74 L106.00 188.68 L106.20 188.60 L106.40 188.55 L106.60 188.58 L106.80 189.19 L107.00 189.34 L107.20 188.60 L107.40 189.09 L107.60 188.37 L107.80 188.71 L108.00 188.48 L108.20 188.26 L108.40 188.86 L108.60 188.87 L108.80 188.71 L109.00 188.67 L109.20 188.52 L109.40 188.82 L109.60 188.67 L109.80 188.97 L110.00 188.47 L110.20 188.97 L110.40 189.08 L110.60 189.34 L110.80 189.28 L111.00 188.99 L111.20 188.69 L111.40 188.29 L111.60 188.94 L111.70 189.21 L112.10 166.06 L112.50 189.06 L112.60 189.47 L112.80 189.56 L113.00 188.10 L113.20 188.73 L113.40 188.87 L113.60 188.64 L113.80 189.07 L114.00 189.03 L114.20 188.84 L114.40 189.02 L114.60 188.48 L114.80 188.70 L115.00 188.73 L115.20 189.37 L115.40 188.49 L115.60 188.99 L115.80 189.35 L116.00 189.06 L116.20 189.37 L116.40 188.86 L116.60 189.25 L116.80 189.42 L117.00 189.87 L117.20 189.34 L117.40 189.58 L117.60 189.08 L117.80 189.10 L118.00 189.61 L118.20 189.26 L118.40 189.55 L118.60 189.29 L118.80 189.78 L119.00 189.86 L119.20 188.73 L119.40 189.67 L119.60 189.16 L119.80 189.17 L120.00 188.96 L120.20 189.25 L120.40 188.60 L120.60 188.73 L120.80 188.71 L121.00 189.07 L121.20 189.29 L121.40 189.22 L121.60 189.08 L121.80 188.74 L122.00 188.32 L122.20 189.08 L122.40 188.98 L122.60 189.05 L122.80 189.41 L123.00 188.85 L123.20 188.83 L123.40 188.09 L123.60 189.09 L123.80 188.87 L124.00 188.62 L124.20 189.01 L124.40 188.50 L124.60 188.67 L124.80 189.54 L125.00 189.11 L125.20 189.16 L125.40 189.09 L125.60 189.05 L125.80 188.89 L126.00 189.61 L126.20 188.77 L126.40 189.02 L126.60 188.65 L126.80 188.57 L127.00 187.81 L127.20 187.96 L127.40 189.14 L127.60 189.09 L127.80 188.38 L128.00 188.49 L128.20 188.68 L128.40 188.09 L128.60 189.02 L128.80 188.00 L129.00 188.08 L129.20 187.34 L129.40 188.80 L129.60 188.26 L129.80 188.77 L130.00 187.82 L130.20 188.26 L130.40 188.13 L130.60 188.14 L130.80 188.77 L131.00 188.80 L131.20 188.46 L131.40 187.80 L131.60 188.22 L131.80 188.35 L132.00 188.04 L132.20 188.01 L132.40 187.95 L132.60 187.43 L132.80 187.80 L133.00 188.24 L133.20 187.30 L133.40 187.65 L133.60 187.88 L133.80 187.07 L134.00 187.47 L134.20 186.89 L134.40 187.25 L134.60 186.94 L134.80 187.09 L135.00 187.20 L135.20 187.24 L135.40 187.24 L135.60 186.44 L135.80 187.80 L136.00 187.12 L136.20 186.80 L136.40 187.43 L136.80 180.79 L137.20 187.22 L137.20 186.82 L137.40 187.12 L137.60 186.63 L137.80 186.80 L138.00 186.75 L138.20 187.08 L138.40 186.60 L138.60 186.99 L138.80 186.92 L139.00 186.69 L139.20 187.12 L139.40 186.63 L139.60 186.15 L139.80 186.61 L140.00 186.49 L140.20 186.37 L140.40 186.41 L140.50 186.28 L142.00 184.57 L143.00 181.08 L143.40 179.20 L143.90 181.60 L144.80 180.88 L146.00 169.67 L146.50 141.54 L147.00 169.89 L148.00 185.22 L149.50 187.80 L149.60 188.81 L149.80 188.04 L150.00 188.08 L150.20 187.81 L150.40 188.32 L150.60 187.81 L150.80 187.52 L151.00 187.34 L151.20 187.93 L151.40 187.97 L151.60 187.13 L151.80 187.40 L152.00 187.85 L152.20 187.95 L152.40 187.10 L152.60 187.39 L152.80 187.79 L153.00 187.25 L153.20 187.21 L153.40 187.11 L153.60 186.78 L153.80 187.18 L154.00 187.21 L154.20 186.54 L154.40 187.00 L154.60 187.29 L154.80 186.91 L155.00 187.10 L155.20 186.51 L155.40 187.11 L155.60 186.35 L155.80 187.34 L156.00 186.58 L156.20 186.54 L156.40 186.54 L156.60 186.76 L156.80 186.79 L157.00 186.78 L157.20 186.96 L157.40 187.36 L157.60 187.50 L157.80 187.12 L158.00 187.73 L158.20 186.95 L158.40 186.94 L158.60 186.90 L158.80 187.51 L159.00 186.76 L159.20 186.81 L159.40 187.75 L159.60 187.90 L159.80 187.77 L160.00 186.78 L160.20 187.39 L160.40 187.76 L160.60 187.59 L160.80 187.07 L161.00 187.60 L161.20 187.21 L161.40 187.46 L161.60 188.73 L161.80 188.30 L162.00 187.63 L162.20 187.71 L162.40 188.48 L162.60 188.19 L162.80 188.69 L163.00 188.35 L163.20 188.59 L163.40 188.83 L163.60 188.47 L163.80 188.24 L164.00 188.58 L164.20 188.76 L164.40 188.93 L164.60 188.99 L164.80 188.99 L165.00 189.19 L165.20 188.71 L165.40 189.51 L165.60 189.73 L165.80 189.16 L166.00 189.10 L166.20 189.47 L166.40 189.27 L166.60 189.11 L166.80 188.99 L167.00 188.79 L167.20 188.65 L167.40 189.29 L167.60 189.48 L167.80 188.70 L168.00 189.04 L168.20 189.15 L168.40 188.93 L168.60 188.81 L168.80 188.95 L169.00 188.40 L169.20 189.07 L169.40 188.99 L169.60 189.84 L169.80 189.43 L170.00 188.99 L170.20 189.11 L170.40 189.71 L170.60 189.68 L170.80 189.19 L171.00 189.08 L171.20 188.62 L171.40 189.02 L171.60 189.08 L171.80 188.88 L172.00 189.75 L172.20 188.49 L172.40 189.10 L172.60 189.30 L172.80 189.31 L173.00 189.75 L173.20 188.68 L173.40 188.91 L173.60 189.21 L173.80 189.22 L174.00 189.05 L174.20 188.92 L174.40 189.56 L174.60 188.83 L174.80 188.99 L175.00 189.70 L175.20 189.81 L175.40 189.51 L175.60 188.91 L175.80 188.92 L176.00 188.90 L176.20 188.83 L176.40 189.08 L176.60 189.67 L176.80 189.31 L177.00 188.97 L177.20 188.97 L177.40 188.83 L177.60 189.67 L177.80 188.54 L178.00 189.35 L178.20 188.75 L178.40 188.89 L178.60 188.74 L178.80 189.61 L179.00 189.24 L179.20 190.24 L179.40 188.92 L179.60 188.90 L179.80 189.49 L180.00 189.49 L180.20 189.18 L180.40 188.57 L180.60 189.78 L180.80 189.46 L181.00 189.40 L181.20 189.04 L181.40 189.47 L181.60 189.04 L181.80 189.25 L182.00 189.16 L182.20 189.66 L182.40 189.05 L182.60 189.09 L182.80 189.59 L183.00 189.27 L183.20 189.18 L183.40 189.10 L183.60 189.51 L183.80 188.94 L184.00 189.33 L184.20 189.87 L184.40 189.29 L184.60 188.87 L184.80 188.72 L185.00 189.18 L185.20 188.69 L185.40 188.56 L185.60 188.85 L185.80 188.72 L186.00 189.41 L186.20 188.58 L186.40 189.64 L186.60 188.82 L186.80 189.12 L187.00 189.30 L187.20 189.14 L187.40 189.31 L187.60 188.70 L187.80 188.25 L188.00 188.97 L188.20 188.44 L188.40 188.82 L188.60 189.35 L188.80 188.94 L189.00 188.80 L189.20 188.60 L189.40 188.89 L189.60 188.92 L189.80 188.42 L190.00 189.08 L190.20 188.59 L190.40 189.04 L190.60 188.80 L190.80 189.29 L191.00 189.24 L191.20 188.94 L191.40 188.89 L191.60 189.08 L191.80 189.40 L192.00 189.29 L192.20 188.97 L192.40 189.02 L192.60 189.45 L192.80 188.32 L193.00 189.08 L193.20 188.57 L193.40 189.35 L193.60 188.70 L193.80 188.83 L194.00 188.48 L194.20 188.87 L194.40 189.13 L194.60 189.44 L194.80 188.40 L195.00 188.69 L195.20 190.20 L195.40 189.16 L195.60 188.82 L195.80 189.00 L196.00 187.88 L196.20 189.38 L196.40 188.86 L196.60 188.30 L196.80 189.20 L197.00 188.57 L197.20 188.42 L197.40 188.96 L197.60 188.91 L197.80 188.60 L198.00 188.73 L198.20 188.28 L198.40 188.24 L198.60 189.06 L198.80 189.20 L199.00 188.88 L199.20 188.85 L199.40 188.58 L199.60 188.67 L199.80 188.38 L200.00 189.32 L200.20 188.49 L200.40 188.83 L200.60 188.68 L200.80 188.18 L201.00 189.34 L201.20 188.52 L201.40 188.37 L201.60 188.68 L201.80 188.31 L202.00 188.63 L202.20 188.28 L202.40 188.80 L202.60 188.62 L202.80 188.11 L203.00 188.94 L203.20 188.64 L203.40 188.18 L203.60 188.68 L203.80 188.70 L204.00 189.19 L204.20 188.23 L204.40 188.83 L204.60 188.48 L204.80 188.73 L205.00 188.41 L205.20 188.47 L205.40 188.66 L205.60 188.06 L205.80 187.73 L206.00 188.46 L206.20 188.30 L206.40 188.48 L206.60 188.67 L206.80 188.36 L207.00 188.84 L207.20 188.40 L207.40 188.45 L207.60 188.70 L207.80 188.60 L208.00 188.36 L208.20 188.43 L208.40 188.11 L208.60 188.15 L208.80 188.39 L209.00 188.64 L209.20 188.19 L209.40 188.63 L209.60 189.01 L209.80 189.07 L210.00 188.32 L210.20 188.68 L210.40 188.51 L210.60 188.57 L210.80 188.58 L211.00 188.46 L211.20 188.56 L211.40 188.33 L211.60 188.16 L211.80 188.34 L212.00 188.41 L212.20 188.66 L212.40 188.35 L212.60 188.48 L212.80 188.71 L213.00 187.87 L213.20 188.10 L213.40 188.37 L213.60 188.18 L213.80 187.81 L214.00 188.51 L214.20 188.13 L214.40 187.79 L214.60 188.80 L214.80 187.68 L215.00 188.11 L215.20 187.87 L215.40 188.14 L215.60 188.29 L215.80 187.80 L216.00 188.04 L216.20 188.02 L216.40 187.71 L216.60 188.46 L216.80 188.11 L217.00 187.94 L217.20 187.79 L217.40 187.90 L217.60 188.06 L217.80 187.84 L218.00 188.43 L218.20 187.10 L218.40 187.23 L218.60 187.88 L218.80 187.32 L219.00 187.93 L219.20 187.72 L219.40 188.14 L219.60 188.08 L219.80 188.38 L220.00 188.24 L220.20 188.36 L220.40 188.10 L220.60 188.29 L220.80 188.09 L221.00 187.71 L221.20 187.48 L221.40 187.49 L221.60 188.09 L221.80 187.08 L222.00 187.98 L222.20 187.65 L222.40 188.17 L222.60 187.99 L222.80 187.65 L223.00 187.92 L223.20 187.12 L223.40 188.01 L223.60 188.08 L223.80 187.27 L224.00 188.22 L224.20 187.87 L224.40 187.98 L224.60 187.42 L224.80 188.13 L225.00 188.12 L225.20 187.91 L225.40 187.57 L225.60 188.18 L225.80 188.35 L226.00 188.06 L226.20 188.27 L226.40 187.71 L226.60 187.97 L226.80 188.05 L227.00 187.97 L227.20 188.91 L227.40 188.07 L227.60 187.73 L227.80 188.22 L228.00 187.55 L228.20 188.06 L228.40 188.20 L228.60 187.76 L228.80 187.82 L229.00 187.60 L229.20 187.98 L229.40 187.69 L229.60 188.54 L229.80 188.16 L230.00 187.85 L230.20 187.44 L230.40 188.65 L230.60 188.39 L230.80 188.10 L231.00 188.00 L231.20 188.00 L231.40 187.77 L231.60 188.60 L231.80 188.01 L232.00 187.43 L232.20 187.71 L232.40 187.03 L232.60 188.17 L232.80 188.20 L233.00 188.56 L233.20 188.67 L233.40 187.66 L233.60 188.09 L233.80 188.29 L234.00 188.21 L234.20 187.76 L234.40 188.22 L234.60 188.11 L234.80 188.41 L235.00 187.92 L235.20 187.85 L235.40 187.75 L235.60 187.80 L235.80 187.66 L236.00 187.81 L236.20 188.11 L236.40 188.09 L236.60 188.39 L236.80 188.31 L237.00 188.15 L237.20 187.53 L237.40 188.13 L237.60 188.34 L237.80 187.47 L238.00 187.54 L238.20 187.59 L238.40 187.56 L238.60 187.82 L238.80 187.60 L239.00 188.06 L239.20 187.50 L239.40 187.88 L239.60 187.75 L239.80 187.58 L240.00 188.28 L240.20 187.92 L240.40 188.09 L240.60 187.77 L240.80 188.12 L241.00 188.08 L241.20 187.79 L241.40 187.21 L241.60 188.11 L241.80 188.05 L242.00 187.86 L242.20 187.87 L242.40 187.82 L242.60 187.83 L242.80 187.40 L243.00 187.72 L243.20 187.84 L243.40 187.50 L243.60 187.36 L243.80 188.34 L244.00 187.89 L244.20 187.56 L244.40 187.48 L244.60 186.72 L244.80 187.13 L245.00 187.53 L245.20 188.06 L245.40 186.88 L245.60 187.34 L245.80 188.24 L246.00 187.80 L246.20 187.69 L246.40 187.95 L246.60 187.48 L246.80 187.45 L247.00 187.75 L247.20 187.79 L247.40 187.10 L247.60 188.00 L247.80 186.84 L248.00 187.20 L248.20 188.51 L248.40 187.24 L248.60 187.64 L248.80 187.04 L249.00 187.27 L249.20 187.12 L249.40 187.22 L249.60 187.58 L249.80 187.95 L250.00 187.63 L250.20 187.84 L250.40 187.09 L250.60 187.75 L250.80 187.41 L251.00 187.66 L251.20 187.01 L251.40 187.04 L251.60 187.58 L251.80 187.28 L252.00 187.08 L252.20 186.77 L252.40 186.95 L252.60 187.12 L252.80 187.18 L253.00 186.70 L253.20 186.75 L253.40 186.99 L253.60 186.42 L253.80 187.11 L254.00 186.75 L254.20 186.68 L254.40 185.85 L254.60 186.11 L254.80 186.27 L255.00 186.40 L255.20 186.21 L255.40 186.71 L255.60 186.62 L255.80 186.47 L256.00 185.84 L256.20 187.04 L256.40 186.44 L256.60 186.74 L256.80 186.29 L257.00 186.51 L257.20 186.75 L257.40 186.58 L257.60 186.82 L257.80 186.41 L258.00 187.17 L258.20 185.80 L258.40 186.26 L258.60 186.78 L258.80 186.34 L259.00 186.27 L259.20 185.79 L259.40 186.83 L259.60 185.73 L259.80 186.37 L260.00 186.06 L260.20 186.10 L260.40 186.11 L260.60 185.15 L260.80 184.91 L261.00 184.88 L261.20 184.19 L261.40 184.88 L261.60 184.25 L261.80 184.25 L262.00 183.54 L262.20 183.63 L262.40 183.11 L262.60 182.99 L262.80 182.33 L263.00 182.76 L263.20 181.87 L263.40 180.89 L263.60 182.11 L263.80 181.88 L264.00 181.78 L264.20 183.06 L264.40 182.27 L264.60 181.92 L264.80 182.27 L265.00 182.72 L265.20 182.09 L265.40 182.19 L265.60 181.72 L265.80 180.65 L266.00 180.53 L266.20 180.33 L266.40 179.55 L266.50 179.53 L267.60 171.89 L268.50 165.06 L269.30 172.26 L269.50 173.43 L270.80 175.67 L271.80 179.61 L271.80 179.32 L272.00 180.08 L272.20 180.22 L272.40 179.86 L272.60 180.44 L272.80 180.78 L273.00 181.17 L273.20 181.25 L273.40 182.26 L273.60 181.65 L273.80 181.82 L274.00 182.48 L274.20 181.82 L274.40 182.46 L274.60 183.24 L274.80 182.77 L275.00 183.14 L275.20 184.03 L275.40 184.01 L275.60 184.08 L275.80 184.35 L276.00 184.24 L276.20 184.79 L276.40 184.82 L276.60 185.85 L276.80 185.25 L277.00 185.03 L277.20 185.22 L277.40 185.34 L277.60 184.93 L277.80 185.21 L278.00 186.12 L278.20 185.18 L278.40 185.56 L278.60 186.21 L278.80 186.46 L279.00 185.66 L279.20 186.62 L279.40 186.07 L279.60 186.86 L279.80 186.55 L280.00 186.36 L280.20 186.80 L280.40 186.83 L280.60 186.45 L280.80 187.56 L281.00 186.77 L281.20 187.33 L281.40 186.79 L281.60 186.35 L281.80 186.62 L282.00 187.01 L282.20 187.31 L282.40 187.72 L282.60 187.16 L282.80 187.07 L283.00 186.76 L283.20 187.21 L283.40 187.36 L283.60 186.51 L283.80 187.77 L284.00 187.74 L284.20 188.17 L284.40 187.09 L284.60 187.45 L284.80 187.47 L285.00 187.03 L285.20 187.21 L285.40 187.18 L285.60 187.72 L285.80 187.71 L286.00 188.04 L286.20 187.44 L286.40 187.11 L286.60 187.77 L286.80 187.76 L287.00 187.88 L287.20 188.10 L287.40 187.47 L287.60 187.97 L287.80 187.36 L288.00 187.78 L288.20 187.98 L288.40 187.71 L288.60 187.85 L288.80 187.30 L289.00 187.57 L289.20 187.87 L289.40 187.41 L289.60 187.55 L289.80 188.71 L290.00 187.97 L290.20 187.60 L290.40 187.54 L290.60 188.40 L290.80 186.95 L291.00 187.82 L291.20 188.17 L291.40 187.76 L291.60 188.16 L291.80 187.62 L292.00 188.00 L292.20 188.03 L292.40 188.03 L292.60 188.09 L292.80 188.07 L293.00 188.47 L293.20 188.00 L293.40 187.90 L293.60 188.02 L293.80 188.03 L294.00 187.61 L294.20 187.49 L294.40 187.70 L294.60 188.29 L294.80 187.97 L295.00 188.08 L295.20 189.24 L295.40 188.65 L295.60 188.20 L295.80 188.06 L296.00 188.78 L296.20 188.04 L296.40 188.76 L296.60 188.55 L296.80 188.81 L297.00 188.03 L297.20 188.55 L297.40 187.55 L297.60 188.08 L297.80 188.47 L298.00 188.29 L298.20 187.35 L298.40 188.19 L298.60 188.06 L298.80 187.83 L299.00 187.55 L299.20 187.66 L299.40 187.51 L299.60 187.99 L299.80 187.78 L300.00 187.94 L300.20 187.76 L300.40 187.02 L300.60 187.47 L300.80 188.13 L301.00 186.94 L301.20 187.38 L301.40 186.96 L301.60 186.88 L301.80 187.21 L302.00 187.41 L302.20 187.31 L302.40 187.16 L302.60 187.28 L302.80 186.33 L303.00 187.14 L303.20 186.95 L303.40 186.69 L303.60 186.71 L303.80 186.37 L304.00 187.02 L304.20 186.30 L304.40 186.00 L304.60 186.47 L304.80 186.23 L305.00 186.38 L305.20 186.90 L305.40 186.29 L305.60 186.35 L305.80 187.07 L306.00 185.75 L306.20 186.34 L306.40 186.59 L306.60 186.68 L306.80 186.90 L307.00 185.85 L307.20 186.26 L307.40 185.98 L307.60 185.83 L307.80 185.70 L308.00 185.41 L308.20 186.01 L308.40 186.12 L308.60 185.45 L308.80 186.06 L309.00 185.57 L309.20 185.37 L309.40 184.78 L309.60 186.05 L309.80 185.89 L310.00 185.49 L310.20 185.43 L310.40 185.08 L310.60 185.69 L310.80 185.45 L311.00 185.63 L311.20 185.47 L311.40 184.88 L311.60 184.80 L311.80 185.46 L312.00 184.69 L312.20 185.35 L312.40 185.54 L312.60 184.74 L312.80 185.40 L313.00 185.14 L313.20 185.29 L313.40 184.84 L313.60 185.15 L313.80 185.40 L314.00 185.99 L314.20 185.69 L314.40 185.70 L314.60 185.16 L314.80 185.83 L315.00 185.56 L315.20 185.87 L315.40 186.08 L315.60 186.42 L315.80 186.37 L316.00 186.32 L316.20 186.33 L316.40 186.92 L316.60 186.22 L316.80 186.63 L317.00 187.20 L317.20 186.73 L317.40 187.18 L317.60 187.30 L317.80 187.77 L318.00 187.56 L318.20 186.67 L318.40 187.34 L318.60 187.54 L318.80 187.82 L319.00 187.75 L319.20 188.37 L319.40 188.18 L319.60 187.47 L319.80 187.75 L320.00 187.33 L320.20 188.76 L320.40 188.19 L320.60 188.28 L320.80 187.82 L321.00 188.25 L321.20 188.58 L321.40 188.31 L321.60 188.34 L321.80 188.29 L322.00 189.24 L322.20 188.37 L322.40 188.07 L322.60 188.43 L322.80 188.52 L323.00 188.63 L323.20 188.60 L323.40 188.32 L323.60 188.67 L323.80 188.91 L324.00 188.30 L324.20 189.53 L324.40 189.46 L324.60 188.24 L324.80 188.78 L325.00 189.29 L325.20 189.44 L325.40 189.63 L325.60 188.37 L325.80 188.65 L326.00 188.89 L326.20 189.30 L326.40 188.75 L326.60 189.32 L326.80 189.35 L327.00 189.48 L327.20 188.79 L327.40 189.35 L327.60 189.33 L327.80 189.19 L328.00 189.83 L328.20 189.29 L328.40 189.94 L328.60 189.25 L328.80 190.09 L329.00 190.10 L329.20 189.25 L329.40 189.70 L329.60 189.72 L329.80 189.29 L330.00 189.94 L330.20 189.90 L330.40 189.41 L330.60 189.79 L330.80 190.10 L331.00 189.75 L331.20 189.59 L331.40 190.45 L331.60 189.55 L331.80 190.05 L332.00 190.36 L332.20 190.27 L332.40 189.36 L332.60 189.93 L332.80 190.03 L333.00 190.00 L333.20 190.30 L333.40 190.27 L333.60 190.13 L333.80 190.18 L334.00 190.44 L334.20 190.53 L334.40 189.41 L334.60 190.86 L334.80 189.89 L335.00 190.37 L335.20 189.51 L335.40 189.91 L335.60 189.64 L335.80 190.48 L336.00 190.41 L336.20 190.10 L336.40 190.03 L336.60 190.23 L336.80 189.76 L337.00 189.88 L337.20 189.82 L337.40 190.39 L337.60 190.10 L337.80 189.64 L338.00 190.22 L338.20 190.28 L338.40 190.59 L338.60 189.90 L338.80 190.24 L339.00 190.83 L339.20 189.98 L339.40 189.97 L339.60 190.28 L339.80 189.92 L340.00 190.09 L340.20 189.92 L340.40 189.82 L340.60 190.41 L340.80 189.96 L341.00 189.74 L341.20 189.99 L341.40 190.04 L341.60 190.20 L341.80 190.42 L342.00 190.72 L342.20 189.66 L342.40 190.00 L342.60 189.44 L342.80 190.17 L343.00 190.27 L343.20 189.86 L343.40 189.76 L343.60 189.73 L343.80 189.55 L344.00 190.31 L344.20 190.76 L344.40 189.68 L344.60 190.66 L344.80 190.04 L345.00 189.59 L345.20 190.28 L345.40 190.35 L345.60 190.22 L345.80 189.98 L346.00 190.67 L346.20 189.98 L346.40 190.30 L346.60 190.31 L346.80 189.76 L347.00 189.42 L347.20 189.46 L347.40 189.93 L347.60 190.20 L347.80 189.44 L348.00 189.82 L348.20 190.61 L348.40 189.43 L348.60 190.23 L348.80 190.19 L349.00 190.35 L349.20 189.55 L349.40 190.19 L349.60 189.57 L349.80 190.54 L350.00 189.76 L350.20 190.20 L350.40 189.78 L350.60 190.12 L350.80 189.52 L351.00 190.17 L351.20 190.28 L351.40 190.06 L351.60 190.64 L351.80 190.20 L352.00 190.34 L352.20 190.24 L352.40 190.73 L352.60 189.83 L352.80 189.97 L353.00 189.99 L353.20 190.29 L353.40 190.16 L353.60 190.36 L353.80 190.17 L354.00 189.88 L354.20 190.05 L354.40 190.22 L354.60 189.26 L354.80 190.56 L355.00 189.87 L355.20 189.95 L355.40 190.17 L355.60 189.98 L355.80 189.56 L356.00 189.99 L356.20 190.57 L356.40 190.45 L356.60 190.52 L356.80 189.88 L357.00 190.00 L357.20 190.46 L357.40 190.61" stroke="#f02020" stroke-width="0.7" fill="none" stroke-linejoin="round"/>
<path d="M222.2 19.5 H250.2" stroke="#5c5cff" stroke-width="1"/>
<path d="M222.2 34.7 H250.2" stroke="#ff6a6a" stroke-width="1"/>
<text x="254.2" y="23.7" font-size="12.6">Changlewuji</text>
<text x="254.2" y="38.9" font-size="12.6">Hanbingtianxia</text>
<text x="211" y="258" font-size="13.6" font-weight="bold" text-anchor="middle">Raman shift (cm<tspan dy="-5" font-size="9">-1</tspan><tspan dy="5">)</tspan></text>
<text transform="translate(12.6,108.2) rotate(-90)" font-size="13.9" font-weight="bold" text-anchor="middle">Intensity (counts)</text>
<text x="0.3" y="17.7" font-size="15.7" font-weight="bold">(a)</text>
<path d="M104.40 48.50 L100.40 37.14" stroke="#444" stroke-width="0.6" fill="none"/><path d="M98.90 32.90 L102.09 36.55 L98.70 37.74Z" fill="#111"/>
<path d="M106.30 100.50 L113.74 28.78" stroke="#444" stroke-width="0.6" fill="none"/><path d="M114.20 24.30 L115.53 28.96 L111.95 28.59Z" fill="#111"/>
<path d="M112.30 113.00 L113.10 75.60" stroke="#444" stroke-width="0.6" fill="none"/><path d="M113.20 71.10 L114.90 75.64 L111.30 75.56Z" fill="#111"/>
<path d="M112.30 113.50 L118.34 102.45" stroke="#444" stroke-width="0.6" fill="none"/><path d="M120.50 98.50 L119.92 103.31 L116.76 101.59Z" fill="#111"/>
<path d="M79.60 145.50 L79.60 139.90" stroke="#444" stroke-width="0.6" fill="none"/><path d="M79.60 135.40 L81.40 139.90 L77.80 139.90Z" fill="#111"/>
<path d="M142.90 140.00 L142.60 133.20" stroke="#444" stroke-width="0.6" fill="none"/><path d="M142.40 128.70 L144.40 133.12 L140.80 133.28Z" fill="#111"/>
<path d="M136.30 142.50 L136.10 140.67" stroke="#444" stroke-width="0.6" fill="none"/><path d="M135.60 136.20 L137.89 140.47 L134.31 140.87Z" fill="#111"/>
<path d="M268.30 121.00 L254.87 93.35" stroke="#444" stroke-width="0.6" fill="none"/><path d="M252.90 89.30 L256.49 92.56 L253.25 94.13Z" fill="#111"/>
<path d="M270.80 125.00 L272.23 87.40" stroke="#444" stroke-width="0.6" fill="none"/><path d="M272.40 82.90 L274.03 87.47 L270.43 87.33Z" fill="#111"/>
<path d="M273.20 135.00 L278.29 103.34" stroke="#444" stroke-width="0.6" fill="none"/><path d="M279.00 98.90 L280.06 103.63 L276.51 103.06Z" fill="#111"/>
<path d="M275.60 140.00 L277.59 131.38" stroke="#444" stroke-width="0.6" fill="none"/><path d="M278.60 127.00 L279.34 131.79 L275.83 130.98Z" fill="#111"/>
<path d="M303.40 142.10 L312.73 110.32" stroke="#444" stroke-width="0.6" fill="none"/><path d="M314.00 106.00 L314.46 110.82 L311.01 109.81Z" fill="#111"/>
<path d="M313.50 142.60 L324.45 130.00" stroke="#444" stroke-width="0.6" fill="none"/><path d="M327.40 126.60 L325.81 131.18 L323.09 128.82Z" fill="#111"/>
<text x="81.7" y="28.70" font-size="11.3">962</text>
<text x="103.7" y="19.20" font-size="11.3">967</text>
<text x="112.2" y="68.20" font-size="11.3">1046</text>
<text x="116.3" y="92.70" font-size="11.3">1060</text>
<text x="141.2" y="59.30" font-size="11.3">1475</text>
<text x="72.0" y="131.90" font-size="11.3">667</text>
<text x="121.5" y="121.40" font-size="11.3">1428</text>
<text x="115.3" y="136.60" font-size="11.3">1351</text>
<text x="232.6" y="85.50" font-size="11.3">2927</text>
<text x="258.9" y="73.30" font-size="11.3">2957</text>
<text x="277.2" y="93.80" font-size="11.3">2985</text>
<text x="279.5" y="122.60" font-size="11.3">3017</text>
<text x="302.8" y="104.30" font-size="11.3">3359</text>
<text x="328.7" y="128.30" font-size="11.3">3474</text>
<rect x="417.6" y="7.2" width="264.9" height="213.1" fill="none" stroke="#303030" stroke-width="1.2"/>
<path d="M417.6 167.20 h4 M417.6 113.80 h2.2 M417.6 60.40 h4 M417.50 220.3 v-4.4 M455.00 220.3 v-2.6 M492.50 220.3 v-4.4 M530.00 220.3 v-2.6 M567.50 220.3 v-4.4 M605.00 220.3 v-2.6 M642.50 220.3 v-4.4 M680.00 220.3 v-2.6" stroke="#303030" stroke-width="1.1" fill="none"/>
<text x="413.3" y="170.70" font-size="12.2" text-anchor="end">90</text>
<text x="413.3" y="63.90" font-size="12.2" text-anchor="end">100</text>
<text x="417.50" y="234" font-size="12.2" text-anchor="middle">4000</text>
<text x="492.50" y="234" font-size="12.2" text-anchor="middle">3000</text>
<text x="567.50" y="234" font-size="12.2" text-anchor="middle">2000</text>
<text x="642.50" y="234" font-size="12.2" text-anchor="middle">1000</text>
<path d="M417.50 87.90 L418.00 87.87 L418.50 87.90 L419.00 87.89 L419.50 88.40 L420.00 88.14 L420.50 88.33 L421.00 87.86 L421.50 87.85 L422.00 88.35 L422.50 87.52 L423.00 87.72 L423.50 87.48 L424.00 87.84 L424.50 88.66 L425.00 87.80 L425.50 88.22 L426.00 88.33 L426.50 87.71 L427.00 87.66 L427.50 87.88 L428.00 87.93 L428.50 87.32 L429.00 87.47 L429.50 88.06 L430.00 87.39 L430.50 87.72 L431.00 87.91 L431.50 87.59 L432.00 87.65 L432.50 87.58 L433.00 87.58 L433.50 87.62 L434.00 87.38 L434.50 87.69 L435.00 87.79 L435.50 88.05 L436.00 87.79 L436.50 87.70 L437.00 88.33 L437.50 87.82 L438.00 87.74 L438.50 87.78 L439.00 88.03 L439.50 87.93 L440.00 88.14 L440.50 88.17 L441.00 88.20 L441.50 88.52 L442.00 88.40 L442.20 89.23 L442.50 89.07 L443.00 90.77 L443.50 91.35 L444.00 92.45 L444.30 93.17 L444.50 93.18 L445.00 96.01 L445.50 97.72 L446.00 99.48 L446.40 101.01 L446.50 101.81 L447.00 103.90 L447.50 107.35 L448.00 109.44 L448.10 110.20 L448.50 111.82 L449.00 113.92 L449.40 115.71 L449.50 116.47 L450.00 121.41 L450.50 125.50 L451.00 130.03 L451.50 134.43 L452.00 138.88 L452.50 141.99 L453.00 145.37 L453.20 146.15 L453.50 147.83 L454.00 150.99 L454.50 150.78 L455.00 150.73 L455.50 150.86 L456.00 150.66 L456.50 151.25 L457.00 151.59 L457.50 152.60 L457.90 153.07 L458.00 153.33 L458.50 153.71 L459.00 154.19 L459.50 154.90 L460.00 155.26 L460.50 155.80 L461.00 156.65 L461.50 157.17 L462.00 157.99 L462.50 158.35 L463.00 158.60 L463.20 159.46 L463.50 159.59 L464.00 159.02 L464.50 159.25 L465.00 159.76 L465.50 159.67 L466.00 158.82 L466.50 159.03 L467.00 158.34 L467.50 154.11 L468.00 150.04 L468.40 146.15 L468.50 145.72 L469.00 143.99 L469.50 141.97 L470.00 139.69 L470.50 137.87 L471.00 135.61 L471.50 133.70 L471.60 132.81 L472.00 131.48 L472.50 129.95 L473.00 127.63 L473.50 125.80 L474.00 124.18 L474.20 123.34 L474.50 122.06 L475.00 120.03 L475.50 118.92 L476.00 116.74 L476.50 115.22 L477.00 112.79 L477.50 112.11 L478.00 111.13 L478.50 110.28 L479.00 108.95 L479.50 108.73 L480.00 107.43 L480.50 106.07 L481.00 104.29 L481.50 103.43 L482.00 101.19 L482.50 100.55 L483.00 98.50 L483.20 97.91 L483.50 97.51 L484.00 97.48 L484.50 96.38 L485.00 95.83 L485.50 95.27 L486.00 95.09 L486.50 94.56 L487.00 93.70 L487.50 93.47 L488.00 93.18 L488.50 92.50 L489.00 91.95 L489.50 91.14 L490.00 91.30 L490.50 90.62 L491.00 89.62 L491.50 89.32 L492.00 88.35 L492.50 88.69 L493.00 87.79 L493.50 87.77 L494.00 87.91 L494.50 86.95 L495.00 87.26 L495.50 86.70 L496.00 86.25 L496.50 86.57 L497.00 86.09 L497.50 85.58 L498.00 85.64 L498.50 85.13 L499.00 84.82 L499.50 84.71 L500.00 84.81 L500.50 83.93 L501.00 83.76 L501.50 84.17 L502.00 83.47 L502.50 83.64 L503.00 83.48 L503.50 83.11 L504.00 83.11 L504.50 83.13 L505.00 83.01 L505.50 83.06 L506.00 82.83 L506.50 82.87 L507.00 82.56 L507.50 82.27 L508.00 82.40 L508.50 82.23 L509.00 82.20 L509.50 81.87 L510.00 81.79 L510.50 81.71 L511.00 81.29 L511.50 81.69 L512.00 81.33 L512.50 81.22 L513.00 81.24 L513.50 81.76 L514.00 80.97 L514.50 81.46 L515.00 80.48 L515.50 80.85 L515.70 81.36 L516.00 81.43 L516.50 82.32 L517.00 82.92 L517.50 83.40 L518.00 84.85 L518.40 85.62 L518.50 85.55 L519.00 85.25 L519.50 84.23 L520.00 83.86 L520.50 82.68 L521.00 82.61 L521.50 82.48 L522.00 82.50 L522.50 82.39 L523.00 82.08 L523.50 81.54 L524.00 81.14 L524.50 80.90 L525.00 80.66 L525.50 80.45 L526.00 80.45 L526.50 79.86 L527.00 79.24 L527.50 79.10 L527.70 80.03 L528.00 79.69 L528.50 79.34 L529.00 79.49 L529.50 79.84 L530.00 79.83 L530.50 79.94 L531.00 79.47 L531.50 79.72 L531.70 80.14 L532.00 80.55 L532.50 80.92 L533.00 81.70 L533.10 81.41 L533.50 80.93 L534.00 80.22 L534.50 79.79 L535.00 78.73 L535.50 78.73 L536.00 77.29 L536.50 77.09 L537.00 76.41 L537.10 76.50 L537.50 74.71 L538.00 73.38 L538.50 73.29 L539.00 73.31 L539.50 73.10 L539.90 72.06 L540.00 72.90 L540.50 74.44 L540.90 75.59 L541.00 76.10 L541.50 78.53 L542.00 81.23 L542.20 81.01 L542.50 86.06 L543.00 88.64 L543.50 87.55 L544.00 83.58 L544.10 84.48 L544.50 82.98 L545.00 85.99 L545.35 85.44 L545.50 86.02 L545.60 86.89 L545.70 86.84 L546.00 83.88 L546.05 85.63 L546.40 84.32 L546.50 84.64 L546.75 83.01 L547.00 77.55 L547.10 81.55 L547.45 81.27 L547.50 80.29 L547.80 79.62 L548.00 81.00 L548.15 79.31 L548.50 81.45 L548.50 82.55 L548.85 79.93 L549.00 81.34 L549.20 77.40 L549.50 77.46 L549.55 78.61 L549.90 76.71 L550.00 78.36 L550.25 77.91 L550.50 80.17 L550.60 76.09 L550.95 78.65 L551.00 74.38 L551.30 75.20 L551.40 76.94 L551.50 76.56 L551.65 72.30 L552.00 78.54 L552.00 79.48 L552.30 77.47 L552.35 79.14 L552.50 78.64 L552.70 78.90 L553.00 78.94 L553.05 73.89 L553.40 72.92 L553.50 76.92 L553.60 75.72 L553.75 77.64 L554.00 76.07 L554.10 78.63 L554.45 74.62 L554.50 80.16 L554.80 79.50 L554.80 78.69 L555.00 72.35 L555.15 70.96 L555.50 59.74 L555.50 56.12 L555.60 52.91 L555.85 58.63 L556.00 56.99 L556.20 61.03 L556.50 65.19 L556.55 66.10 L556.90 62.40 L557.00 57.51 L557.25 61.53 L557.50 62.43 L557.60 61.36 L557.95 64.82 L558.00 64.65 L558.30 70.32 L558.50 71.92 L558.60 73.17 L558.65 72.78 L559.00 75.86 L559.00 74.14 L559.35 74.16 L559.50 72.57 L559.70 74.30 L559.90 75.47 L560.00 78.38 L560.05 76.66 L560.40 75.91 L560.50 78.10 L560.75 78.39 L561.00 76.94 L561.10 78.82 L561.30 76.40 L561.45 79.15 L561.50 82.83 L561.80 82.07 L562.00 82.20 L562.15 83.22 L562.50 84.25 L562.50 80.84 L562.80 83.27 L562.85 82.38 L563.00 83.05 L563.20 81.96 L563.50 81.14 L563.55 76.70 L563.90 71.57 L564.00 73.20 L564.25 70.23 L564.30 70.30 L564.50 70.40 L564.60 71.55 L564.95 70.54 L565.00 72.27 L565.30 74.33 L565.50 73.41 L565.65 74.49 L565.70 72.47 L566.00 73.45 L566.00 71.69 L566.35 68.63 L566.50 68.56 L566.70 67.09 L567.00 65.73 L567.05 65.67 L567.40 74.22 L567.50 74.04 L567.75 76.44 L568.00 79.61 L568.10 79.88 L568.20 82.80 L568.45 75.08 L568.50 74.20 L568.80 65.95 L568.90 67.20 L569.00 67.09 L569.15 66.84 L569.50 66.67 L569.50 60.36 L569.85 64.61 L570.00 66.19 L570.20 65.13 L570.40 61.25 L570.50 64.87 L570.55 65.68 L570.90 64.30 L571.00 63.43 L571.25 65.07 L571.50 61.80 L571.60 67.35 L571.95 66.49 L572.00 67.41 L572.40 68.61 L572.50 68.79 L573.00 71.12 L573.50 68.72 L574.00 69.73 L574.50 68.76 L575.00 70.25 L575.20 69.81 L575.50 71.17 L576.00 71.03 L576.50 71.05 L577.00 71.57 L577.50 71.27 L578.00 71.64 L578.50 71.60 L579.00 71.70 L579.50 72.00 L580.00 72.03 L580.50 72.27 L581.00 72.16 L581.50 72.17 L582.00 73.01 L582.50 72.90 L583.00 72.84 L583.50 73.11 L584.00 72.94 L584.50 73.42 L585.00 73.11 L585.50 73.73 L586.00 73.85 L586.50 73.89 L587.00 74.22 L587.50 74.17 L588.00 74.74 L588.50 74.63 L589.00 74.24 L589.50 74.52 L589.60 75.19 L590.00 75.46 L590.50 76.68 L591.00 77.46 L591.50 78.96 L592.00 82.55 L592.50 86.18 L592.80 88.09 L593.00 90.52 L593.50 96.94 L593.70 98.86 L594.00 103.05 L594.50 111.58 L595.00 106.84 L595.50 101.68 L596.00 99.39 L596.50 96.80 L597.00 94.03 L597.20 93.31 L597.50 96.00 L598.00 100.16 L598.50 104.97 L599.00 115.65 L599.50 126.07 L599.70 129.92 L600.00 135.47 L600.50 143.62 L600.80 149.21 L601.00 144.77 L601.50 135.82 L601.80 130.51 L602.00 126.71 L602.50 116.97 L603.00 107.28 L603.50 105.07 L604.00 102.27 L604.50 107.03 L605.00 112.06 L605.50 125.66 L606.00 139.87 L606.50 149.19 L607.00 158.68 L607.50 143.86 L607.80 135.35 L608.00 133.59 L608.50 129.55 L608.60 128.95 L609.00 138.47 L609.30 145.85 L609.50 145.20 L610.00 142.70 L610.50 141.06 L611.00 142.98 L611.20 144.26 L611.50 147.51 L612.00 154.04 L612.50 145.03 L612.80 140.11 L613.00 142.05 L613.50 148.60 L613.60 149.77 L614.00 145.59 L614.50 140.89 L615.00 149.65 L615.50 158.27 L615.90 165.13 L616.00 163.81 L616.50 156.81 L617.00 150.24 L617.50 137.62 L617.80 130.31 L618.00 126.95 L618.50 118.98 L618.90 112.01 L619.00 111.14 L619.50 106.45 L620.00 101.70 L620.30 99.17 L620.50 98.38 L621.00 96.59 L621.50 94.72 L622.00 93.10 L622.50 90.68 L623.00 89.36 L623.50 88.71 L624.00 88.06 L624.50 87.64 L625.00 87.34 L625.50 86.92 L626.00 86.16 L626.50 85.89 L627.00 85.31 L627.50 84.97 L627.80 84.67 L628.00 84.53 L628.50 84.06 L629.00 83.67 L629.50 84.09 L630.00 83.35 L630.50 83.55 L631.00 83.17 L631.50 83.36 L632.00 82.73 L632.50 82.49 L632.60 82.02 L633.00 82.62 L633.50 82.41 L634.00 82.20 L634.50 82.19 L635.00 82.53 L635.50 82.26 L636.00 82.30 L636.50 81.98 L636.60 82.10 L637.00 83.26 L637.50 84.21 L638.00 85.84 L638.20 85.97 L638.50 90.40 L639.00 96.30 L639.50 91.82 L639.80 89.26 L640.00 90.95 L640.50 95.51 L640.60 96.43 L641.00 92.53 L641.40 87.92 L641.50 87.87 L642.00 85.55 L642.20 84.47 L642.50 83.94 L643.00 83.70 L643.50 81.87 L643.80 81.92 L644.00 83.81 L644.50 88.47 L644.60 89.25 L645.00 93.73 L645.20 95.77 L645.50 91.79 L645.90 85.89 L646.00 85.57 L646.50 82.95 L647.00 79.48 L647.50 79.50 L648.00 78.93 L648.50 79.19 L649.00 78.71 L649.50 78.87 L650.00 78.25 L650.50 78.36 L651.00 77.91 L651.50 77.97 L652.00 77.89 L652.50 78.16 L653.00 77.52 L653.50 77.35 L654.00 78.75 L654.50 79.63 L655.00 80.17 L655.50 94.16 L656.00 86.91 L656.20 84.23 L656.50 81.52 L656.70 79.19 L657.00 79.64 L657.50 80.46 L658.00 80.48 L658.50 80.31 L659.00 80.65 L659.50 80.95 L659.90 80.88 L660.00 80.64 L660.50 82.83 L661.00 83.69 L661.50 85.02 L662.00 84.75 L662.50 84.59 L663.00 84.33 L663.10 84.77 L663.50 85.11 L664.00 86.34 L664.50 87.18 L665.00 88.51 L665.50 89.22 L666.00 93.02 L666.40 97.44 L666.50 98.83 L667.00 105.73 L667.10 106.59 L667.50 102.18 L667.80 98.08 L668.00 96.54 L668.50 93.49 L668.70 92.68 L669.00 92.53 L669.50 93.14 L670.00 93.50 L670.30 94.12 L670.50 96.05 L671.00 102.13 L671.50 98.35 L671.90 96.10 L672.00 95.41 L672.50 95.21 L673.00 95.10 L673.50 94.74 L674.00 93.81 L674.30 94.04 L674.50 93.93 L675.00 93.59 L675.50 92.97 L676.00 92.98 L676.50 92.55 L677.00 91.71 L677.50 91.10 L678.00 90.93 L678.50 90.66 L679.00 90.36 L679.10 89.72 L679.50 89.58 L680.00 88.92 L680.50 88.84 L681.00 89.03 L681.50 88.95 L682.00 88.41 L682.50 87.99" stroke="#3030e8" stroke-width="0.9" fill="none" stroke-linejoin="round"/>
<path d="M417.50 60.96 L418.00 60.57 L418.50 61.32 L419.00 60.97 L419.50 60.51 L420.00 60.65 L420.50 60.44 L421.00 60.41 L421.50 60.88 L422.00 60.41 L422.50 61.03 L423.00 60.55 L423.50 60.87 L424.00 61.40 L424.50 60.90 L425.00 61.00 L425.50 61.28 L426.00 60.87 L426.50 61.05 L427.00 60.68 L427.50 60.76 L428.00 60.86 L428.50 60.80 L429.00 60.58 L429.50 60.79 L430.00 60.85 L430.50 60.90 L431.00 60.80 L431.50 60.60 L432.00 61.04 L432.50 61.12 L433.00 60.71 L433.50 60.43 L434.00 60.99 L434.50 61.33 L435.00 61.33 L435.50 60.87 L436.00 61.53 L436.50 60.58 L437.00 60.63 L437.50 59.89 L438.00 59.84 L438.50 59.89 L439.00 59.88 L439.50 60.27 L440.00 60.10 L440.10 60.20 L440.50 60.61 L441.00 60.96 L441.50 61.88 L442.00 62.37 L442.50 62.62 L443.00 62.87 L443.30 63.51 L443.50 63.97 L444.00 65.32 L444.50 66.42 L445.00 67.63 L445.40 69.04 L445.50 68.89 L446.00 70.73 L446.50 72.08 L447.00 74.16 L447.50 75.87 L448.00 77.91 L448.50 80.13 L449.00 81.84 L449.50 84.09 L449.60 84.30 L450.00 85.88 L450.50 87.53 L451.00 90.09 L451.50 92.14 L451.70 92.54 L452.00 93.99 L452.50 95.94 L453.00 98.54 L453.10 98.81 L453.50 99.43 L454.00 99.63 L454.50 100.13 L454.80 99.97 L455.00 99.78 L455.50 100.22 L456.00 100.14 L456.50 100.79 L456.90 100.43 L457.00 100.78 L457.50 100.85 L458.00 100.92 L458.50 100.91 L459.00 101.52 L459.50 101.89 L460.00 101.93 L460.50 102.16 L461.00 102.32 L461.10 101.95 L461.50 102.66 L462.00 102.78 L462.50 103.36 L463.00 104.09 L463.50 103.66 L464.00 104.48 L464.30 104.86 L464.50 104.90 L465.00 104.29 L465.50 103.71 L466.00 103.75 L466.40 103.42 L466.50 102.59 L467.00 101.81 L467.50 100.13 L468.00 98.67 L468.50 97.83 L469.00 96.59 L469.50 95.03 L470.00 94.75 L470.50 92.71 L470.60 92.87 L471.00 91.97 L471.50 91.09 L472.00 89.24 L472.50 88.48 L472.70 87.31 L473.00 86.68 L473.50 85.09 L474.00 83.44 L474.50 82.28 L474.80 81.77 L475.00 81.31 L475.50 79.70 L476.00 77.99 L476.50 76.80 L476.90 76.15 L477.00 75.93 L477.50 74.92 L478.00 73.69 L478.50 72.52 L479.00 71.84 L479.50 70.71 L480.00 70.05 L480.50 68.71 L481.00 68.28 L481.50 67.60 L482.00 66.94 L482.50 66.12 L483.00 64.57 L483.20 64.20 L483.50 64.16 L484.00 63.27 L484.50 62.27 L485.00 62.59 L485.50 61.72 L486.00 61.22 L486.50 60.38 L487.00 60.00 L487.40 59.27 L487.50 59.13 L488.00 59.02 L488.50 57.70 L489.00 57.57 L489.50 56.49 L490.00 56.71 L490.30 55.94 L490.50 55.37 L491.00 54.39 L491.50 53.96 L492.00 53.69 L492.50 52.49 L493.00 51.15 L493.50 50.21 L494.00 50.60 L494.30 49.25 L494.50 48.04 L495.00 45.97 L495.50 43.61 L496.00 41.38 L496.20 39.95 L496.50 38.32 L497.00 36.17 L497.50 33.29 L497.80 32.09 L498.00 33.45 L498.50 37.18 L499.00 40.28 L499.50 43.81 L499.70 45.47 L500.00 44.71 L500.50 42.89 L501.00 41.73 L501.50 40.64 L502.00 39.17 L502.40 38.77 L502.50 38.85 L503.00 41.34 L503.50 43.37 L504.00 45.77 L504.20 46.72 L504.50 47.14 L505.00 47.09 L505.50 47.87 L506.00 47.59 L506.50 48.33 L507.00 48.44 L507.50 48.58 L507.70 49.19 L508.00 49.01 L508.50 48.65 L509.00 48.45 L509.50 48.79 L510.00 48.32 L510.50 48.60 L511.00 48.18 L511.50 48.37 L512.00 48.07 L512.50 48.17 L513.00 48.58 L513.50 48.54 L514.00 47.92 L514.40 47.93 L514.50 47.71 L515.00 48.88 L515.50 49.77 L516.00 49.94 L516.50 50.60 L517.00 51.60 L517.50 52.04 L518.00 52.90 L518.40 53.79 L518.50 53.41 L519.00 52.97 L519.50 52.77 L520.00 51.86 L520.50 51.47 L521.00 50.81 L521.50 50.11 L522.00 50.20 L522.40 49.05 L522.50 49.37 L523.00 48.80 L523.50 48.63 L524.00 48.26 L524.50 48.26 L525.00 48.19 L525.50 48.15 L526.00 47.09 L526.50 47.37 L527.00 46.95 L527.50 46.64 L527.70 46.67 L528.00 46.82 L528.50 46.86 L529.00 47.01 L529.50 47.68 L530.00 47.28 L530.50 47.46 L531.00 47.21 L531.50 47.89 L532.00 47.60 L532.50 47.83 L533.00 47.78 L533.10 47.98 L533.50 47.37 L534.00 46.78 L534.50 46.25 L535.00 46.00 L535.50 45.60 L535.70 45.58 L536.00 45.42 L536.50 44.82 L537.00 43.55 L537.50 42.88 L538.00 42.59 L538.50 42.44 L539.00 43.21 L539.50 43.45 L539.90 43.16 L540.00 43.79 L540.50 44.93 L541.00 45.65 L541.40 46.20 L541.50 47.77 L542.00 55.74 L542.20 58.06 L542.50 57.07 L543.00 53.79 L543.50 50.40 L543.70 48.96 L544.00 50.44 L544.50 48.06 L545.00 49.17 L545.35 45.48 L545.50 48.04 L545.60 48.46 L545.70 48.79 L546.00 49.62 L546.05 48.79 L546.40 48.51 L546.50 46.88 L546.75 45.22 L547.00 44.74 L547.10 45.38 L547.45 46.88 L547.50 48.24 L547.80 47.16 L548.00 46.99 L548.15 48.07 L548.50 46.23 L548.50 47.16 L548.85 46.79 L549.00 47.45 L549.20 46.75 L549.50 44.91 L549.55 46.51 L549.90 45.20 L550.00 49.72 L550.25 48.80 L550.50 44.66 L550.60 44.08 L550.95 45.17 L551.00 42.31 L551.30 46.90 L551.40 44.37 L551.50 43.81 L551.65 46.91 L552.00 48.07 L552.00 45.99 L552.30 48.19 L552.35 43.15 L552.50 44.37 L552.70 43.63 L553.00 41.33 L553.05 45.75 L553.30 47.83 L553.40 41.54 L553.50 43.46 L553.75 47.78 L554.00 46.61 L554.10 47.66 L554.20 46.74 L554.45 43.19 L554.50 39.68 L554.80 36.09 L555.00 31.16 L555.15 27.52 L555.50 17.55 L555.50 18.56 L555.60 17.56 L555.85 22.22 L556.00 26.35 L556.10 26.84 L556.20 29.83 L556.50 29.96 L556.55 31.88 L556.90 27.27 L557.00 26.63 L557.10 31.30 L557.25 32.68 L557.50 31.23 L557.60 33.46 L557.95 34.72 L558.00 38.46 L558.30 41.38 L558.50 40.76 L558.65 37.60 L559.00 40.55 L559.00 38.72 L559.35 41.13 L559.50 39.76 L559.70 42.21 L560.00 43.80 L560.05 42.16 L560.40 42.77 L560.50 42.98 L560.75 44.24 L561.00 42.27 L561.10 42.87 L561.45 43.44 L561.50 46.21 L561.80 44.55 L561.90 45.45 L562.00 44.21 L562.15 43.11 L562.50 46.67 L562.50 48.10 L562.85 48.30 L563.00 48.54 L563.20 49.84 L563.20 51.47 L563.50 48.15 L563.55 46.84 L563.90 41.44 L564.00 40.87 L564.20 46.61 L564.25 39.56 L564.50 40.30 L564.60 39.45 L564.70 36.09 L564.95 41.34 L565.00 39.14 L565.30 37.74 L565.50 41.01 L565.65 38.78 L566.00 40.84 L566.00 37.84 L566.20 40.18 L566.35 42.24 L566.50 40.65 L566.70 39.65 L567.00 41.75 L567.05 44.64 L567.40 41.72 L567.50 42.42 L567.60 46.70 L567.75 46.45 L568.00 47.74 L568.10 47.64 L568.45 51.39 L568.50 52.50 L568.80 47.81 L569.00 41.15 L569.15 43.49 L569.50 34.67 L569.50 40.81 L569.85 35.01 L570.00 36.12 L570.20 34.55 L570.40 31.72 L570.50 35.31 L570.55 33.66 L570.90 37.96 L571.00 35.54 L571.25 35.52 L571.50 39.73 L571.60 38.06 L571.95 36.64 L572.00 35.54 L572.50 39.00 L573.00 37.52 L573.30 37.19 L573.50 35.61 L574.00 35.67 L574.50 35.81 L575.00 37.35 L575.50 36.89 L576.00 37.37 L576.20 36.77 L576.50 37.50 L577.00 36.96 L577.50 36.36 L578.00 36.61 L578.50 36.92 L579.00 37.09 L579.50 35.93 L580.00 36.16 L580.50 36.58 L581.00 36.20 L581.50 36.52 L582.00 36.41 L582.50 36.74 L583.00 36.39 L583.50 36.71 L584.00 36.63 L584.50 36.91 L585.00 36.91 L585.50 37.22 L585.80 37.05 L586.00 37.50 L586.50 36.84 L587.00 37.35 L587.50 37.78 L588.00 37.79 L588.50 37.28 L589.00 38.19 L589.50 38.16 L590.00 39.07 L590.40 38.57 L590.50 38.97 L591.00 39.59 L591.50 41.03 L592.00 41.19 L592.50 42.65 L593.00 43.84 L593.50 44.56 L594.00 46.23 L594.20 46.40 L594.50 49.55 L595.00 53.35 L595.50 58.06 L595.70 60.26 L596.00 57.53 L596.50 53.80 L597.00 49.69 L597.20 47.71 L597.50 48.85 L598.00 50.49 L598.50 51.95 L598.70 52.45 L599.00 56.67 L599.50 63.89 L600.00 71.35 L600.30 75.92 L600.50 73.73 L601.00 70.55 L601.50 67.48 L602.00 64.60 L602.40 61.39 L602.50 62.59 L603.00 64.62 L603.50 65.48 L603.90 67.88 L604.00 68.71 L604.50 72.74 L605.00 76.65 L605.50 81.47 L606.00 85.58 L606.40 89.40 L606.50 88.24 L607.00 82.79 L607.50 78.46 L607.90 74.37 L608.00 74.70 L608.50 76.37 L609.00 78.62 L609.40 80.04 L609.50 80.07 L610.00 80.67 L610.50 82.15 L611.00 82.52 L611.50 82.70 L612.00 81.67 L612.50 81.57 L613.00 84.35 L613.50 87.04 L614.00 89.97 L614.50 92.99 L614.60 94.09 L615.00 90.15 L615.50 85.40 L616.00 81.10 L616.50 76.02 L617.00 71.35 L617.10 70.59 L617.50 68.73 L618.00 65.46 L618.50 62.62 L618.60 62.04 L619.00 60.05 L619.50 58.15 L620.00 55.70 L620.50 52.99 L621.00 51.62 L621.50 50.54 L622.00 48.99 L622.50 47.89 L623.00 46.75 L623.40 45.52 L623.50 45.43 L624.00 44.63 L624.50 43.93 L625.00 43.26 L625.50 43.23 L626.00 42.09 L626.50 41.69 L627.00 41.07 L627.20 40.91 L627.50 40.56 L628.00 39.99 L628.50 40.68 L629.00 39.63 L629.50 39.80 L630.00 39.12 L630.50 39.32 L631.00 38.63 L631.50 39.24 L632.00 38.84 L632.50 38.23 L633.00 38.98 L633.50 37.98 L634.00 38.29 L634.50 38.57 L635.00 38.10 L635.50 38.44 L636.00 38.03 L636.50 37.78 L636.70 38.22 L637.00 39.63 L637.50 42.36 L638.00 45.59 L638.20 46.43 L638.50 43.63 L639.00 39.61 L639.50 43.22 L640.00 45.97 L640.20 46.10 L640.50 44.51 L641.00 40.97 L641.50 36.92 L642.00 36.91 L642.50 36.21 L643.00 36.12 L643.40 36.26 L643.50 36.27 L644.00 37.71 L644.50 39.14 L644.70 39.45 L645.00 38.63 L645.50 37.25 L646.00 35.86 L646.30 34.77 L646.50 35.40 L647.00 34.26 L647.50 34.24 L648.00 34.15 L648.50 34.26 L649.00 33.55 L649.50 33.79 L650.00 33.31 L650.10 33.29 L650.50 33.51 L651.00 33.49 L651.50 33.42 L652.00 32.74 L652.50 33.19 L653.00 33.07 L653.50 32.77 L653.90 32.71 L654.00 33.38 L654.50 37.22 L655.00 41.36 L655.20 43.13 L655.50 41.02 L656.00 38.49 L656.50 35.95 L656.80 33.74 L657.00 34.57 L657.50 34.36 L658.00 34.76 L658.50 34.43 L659.00 34.40 L659.50 34.71 L660.00 34.94 L660.50 34.74 L660.60 35.24 L661.00 35.07 L661.50 34.73 L662.00 35.13 L662.50 34.97 L663.00 35.02 L663.50 34.91 L664.00 34.82 L664.50 34.69 L665.00 35.04 L665.30 35.02 L665.50 37.19 L666.00 42.03 L666.50 47.47 L666.70 49.63 L667.00 47.19 L667.50 44.34 L668.00 41.66 L668.20 39.68 L668.50 40.18 L669.00 41.01 L669.50 41.65 L670.00 42.76 L670.50 43.28 L670.70 43.58 L671.00 43.04 L671.50 42.77 L672.00 42.00 L672.50 41.31 L673.00 40.72 L673.50 40.96 L674.00 40.30 L674.50 40.12 L675.00 40.15 L675.50 39.53 L676.00 39.55 L676.50 38.79 L676.80 39.07 L677.00 38.15 L677.50 38.22 L678.00 37.56 L678.50 36.97 L679.00 36.92 L679.50 36.32 L680.00 35.84 L680.50 35.49 L680.60 35.14 L681.00 35.36 L681.50 35.46 L682.00 36.22 L682.50 36.23" stroke="#e05858" stroke-width="0.9" fill="none" stroke-linejoin="round"/>
<path d="M425.2 189.3 H451.7" stroke="#7070ff" stroke-width="1"/>
<path d="M425.2 205.7 H451.7" stroke="#d89090" stroke-width="1"/>
<text x="455.6" y="193.8" font-size="13">Changlewuji</text>
<text x="455.6" y="209.3" font-size="13">Hanbingtianxia</text>
<text x="549.7" y="256.2" font-size="13.3" font-weight="bold" text-anchor="middle">Wavenumber (cm<tspan dy="-5" font-size="9">-1</tspan><tspan dy="5">)</tspan></text>
<text transform="translate(381.3,110) rotate(-90)" font-size="13" font-weight="bold" text-anchor="middle">Transmittance (%)</text>
<text x="363.8" y="17.7" font-size="15.7" font-weight="bold">(b)</text>
<path d="M601.50 148.00 L599.40 151.16" stroke="#444" stroke-width="0.6" fill="none"/><path d="M596.90 154.90 L597.90 150.16 L600.89 152.15Z" fill="#111"/>
<path d="M607.20 160.00 L607.20 177.80" stroke="#444" stroke-width="0.6" fill="none"/><path d="M607.20 182.30 L605.40 177.80 L609.00 177.80Z" fill="#111"/>
<path d="M612.50 155.00 L612.50 167.50" stroke="#444" stroke-width="0.6" fill="none"/><path d="M612.50 172.00 L610.70 167.50 L614.30 167.50Z" fill="#111"/>
<path d="M615.50 165.50 L619.20 166.28" stroke="#444" stroke-width="0.6" fill="none"/><path d="M623.60 167.20 L618.83 168.04 L619.57 164.51Z" fill="#111"/>
<path d="M614.50 151.40 L635.53 156.53" stroke="#444" stroke-width="0.6" fill="none"/><path d="M639.90 157.60 L635.10 158.28 L635.96 154.78Z" fill="#111"/>
<path d="M641.00 96.00 L634.31 101.38" stroke="#444" stroke-width="0.6" fill="none"/><path d="M630.80 104.20 L633.18 99.98 L635.43 102.78Z" fill="#111"/>
<path d="M645.30 93.00 L645.34 93.33" stroke="#444" stroke-width="0.6" fill="none"/><path d="M645.90 97.80 L643.56 93.56 L647.13 93.11Z" fill="#111"/>
<path d="M642.50 89.60 L642.50 119.40" stroke="#444" stroke-width="0.6" fill="none"/><path d="M642.50 123.90 L640.70 119.40 L644.30 119.40Z" fill="#111"/>
<path d="M655.50 93.00 L658.20 110.25" stroke="#444" stroke-width="0.6" fill="none"/><path d="M658.90 114.70 L656.43 110.53 L659.98 109.98Z" fill="#111"/>
<path d="M670.50 102.50 L670.54 105.70" stroke="#444" stroke-width="0.6" fill="none"/><path d="M670.60 110.20 L668.74 105.72 L672.34 105.68Z" fill="#111"/>
<path d="M667.30 108.00 L667.54 126.30" stroke="#444" stroke-width="0.6" fill="none"/><path d="M667.60 130.80 L665.74 126.32 L669.34 126.28Z" fill="#111"/>
<text x="433.4" y="164.9" font-size="11.3">3510</text>
<text x="464.7" y="171" font-size="11.3">3342</text>
<text x="572.3" y="120.6" font-size="11.3">1638</text>
<text x="575.8" y="164" font-size="11.3">1550</text>
<text x="595.3" y="193.1" font-size="11.3">1468</text>
<text x="610.9" y="181.2" font-size="11.3">1404</text>
<text x="619.9" y="170.4" font-size="11.3">1353</text>
<text x="641.8" y="161.1" font-size="11.3">1383</text>
<text x="619.1" y="113.6" font-size="11.3">1048</text>
<text x="640.9" y="106.7" font-size="11.3">960</text>
<text x="630.6" y="133" font-size="11.3">1018</text>
<text x="650.5" y="123.2" font-size="11.3">821</text>
<text x="664.9" y="118.9" font-size="11.3">611</text>
<text x="659.6" y="139.9" font-size="11.3">667</text>
</svg></body></html>
